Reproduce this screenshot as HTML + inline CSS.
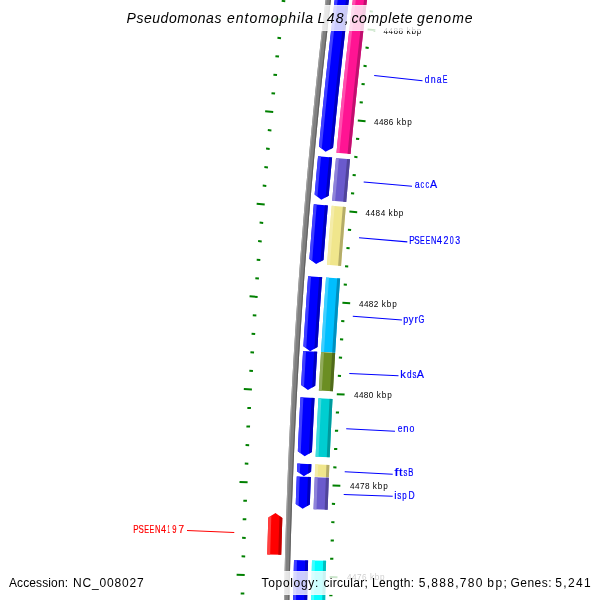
<!DOCTYPE html>
<html><head><meta charset="utf-8"><style>
html,body{margin:0;padding:0;background:#fff;width:600px;height:600px;overflow:hidden}
svg{display:block}
</style></head><body><svg width="600" height="600" viewBox="0 0 600 600"><rect width="600" height="600" fill="#fff"/><polygon points="328.92,614.61 332.12,614.66 332.16,612.67 328.96,612.61" fill="#008000"/><polygon points="243.93,613.11 240.33,613.05 240.37,611.05 243.97,611.11" fill="#008000"/><polygon points="329.27,596.31 332.47,596.37 332.51,594.38 329.31,594.31" fill="#008000"/><polygon points="244.29,594.55 240.69,594.48 240.73,592.48 244.33,592.56" fill="#008000"/><polygon points="329.67,578.01 337.47,578.19 337.52,576.20 329.72,576.01" fill="#008000"/><polygon points="244.69,576.00 236.60,575.81 236.64,573.81 244.74,574.00" fill="#008000"/><polygon points="330.13,559.71 333.33,559.80 333.38,557.80 330.18,557.71" fill="#008000"/><polygon points="245.16,557.45 241.56,557.35 241.61,555.35 245.21,555.45" fill="#008000"/><polygon points="330.64,541.42 333.84,541.51 333.90,539.51 330.70,539.42" fill="#008000"/><polygon points="245.68,538.89 242.08,538.79 242.14,536.79 245.74,536.89" fill="#008000"/><polygon points="331.21,523.12 334.41,523.23 334.47,521.23 331.27,521.13" fill="#008000"/><polygon points="246.25,520.34 242.66,520.22 242.72,518.22 246.32,518.34" fill="#008000"/><polygon points="331.83,504.83 335.03,504.95 335.10,502.95 331.90,502.83" fill="#008000"/><polygon points="246.89,501.79 243.29,501.66 243.36,499.67 246.96,499.79" fill="#008000"/><polygon points="332.51,486.54 340.31,486.84 340.38,484.85 332.59,484.54" fill="#008000"/><polygon points="247.58,483.25 239.48,482.93 239.56,480.93 247.65,481.25" fill="#008000"/><polygon points="333.25,468.25 336.44,468.39 336.53,466.39 333.33,466.26" fill="#008000"/><polygon points="248.32,464.70 244.72,464.55 244.81,462.55 248.40,462.70" fill="#008000"/><polygon points="334.04,449.97 337.23,450.11 337.32,448.11 334.13,447.97" fill="#008000"/><polygon points="249.12,446.16 245.53,446.00 245.61,444.00 249.21,444.16" fill="#008000"/><polygon points="334.88,431.69 338.08,431.84 338.17,429.84 334.98,429.69" fill="#008000"/><polygon points="249.98,427.62 246.38,427.45 246.48,425.45 250.07,425.62" fill="#008000"/><polygon points="335.78,413.40 338.98,413.57 339.08,411.57 335.88,411.41" fill="#008000"/><polygon points="250.89,409.08 247.30,408.90 247.40,406.90 250.99,407.08" fill="#008000"/><polygon points="336.74,395.13 344.53,395.55 344.63,393.55 336.85,393.13" fill="#008000"/><polygon points="251.86,390.55 243.77,390.11 243.88,388.11 251.97,388.55" fill="#008000"/><polygon points="337.75,376.85 340.94,377.03 341.06,375.04 337.86,374.85" fill="#008000"/><polygon points="252.89,372.01 249.29,371.81 249.41,369.81 253.00,370.02" fill="#008000"/><polygon points="338.81,358.58 342.01,358.77 342.13,356.78 338.93,356.58" fill="#008000"/><polygon points="253.97,353.49 250.37,353.27 250.49,351.27 254.09,351.49" fill="#008000"/><polygon points="339.94,340.31 343.13,340.51 343.26,338.52 340.06,338.32" fill="#008000"/><polygon points="255.10,334.96 251.51,334.73 251.64,332.74 255.23,332.97" fill="#008000"/><polygon points="341.11,322.05 344.31,322.26 344.44,320.26 341.24,320.05" fill="#008000"/><polygon points="256.30,316.44 252.71,316.20 252.84,314.21 256.43,314.44" fill="#008000"/><polygon points="342.34,303.79 350.13,304.32 350.26,302.33 342.48,301.79" fill="#008000"/><polygon points="257.55,297.92 249.47,297.36 249.60,295.37 257.69,295.93" fill="#008000"/><polygon points="343.63,285.53 346.82,285.76 346.97,283.76 343.78,283.53" fill="#008000"/><polygon points="258.85,279.41 255.26,279.15 255.41,277.15 259.00,277.41" fill="#008000"/><polygon points="344.97,267.28 348.17,267.51 348.32,265.52 345.12,265.28" fill="#008000"/><polygon points="260.21,260.90 256.62,260.63 256.77,258.63 260.36,258.90" fill="#008000"/><polygon points="346.37,249.03 349.56,249.28 349.72,247.28 346.53,247.03" fill="#008000"/><polygon points="261.63,242.39 258.04,242.11 258.20,240.12 261.79,240.40" fill="#008000"/><polygon points="347.83,230.78 351.01,231.04 351.18,229.05 347.99,228.79" fill="#008000"/><polygon points="263.10,223.89 259.52,223.60 259.68,221.61 263.27,221.90" fill="#008000"/><polygon points="349.33,212.54 357.11,213.20 357.27,211.20 349.50,210.55" fill="#008000"/><polygon points="264.63,205.39 256.56,204.71 256.73,202.72 264.80,203.40" fill="#008000"/><polygon points="350.90,194.30 354.08,194.58 354.26,192.59 351.07,192.31" fill="#008000"/><polygon points="266.22,186.90 262.63,186.59 262.81,184.60 266.39,184.91" fill="#008000"/><polygon points="352.51,176.07 355.70,176.36 355.88,174.37 352.70,174.08" fill="#008000"/><polygon points="267.86,168.41 264.28,168.09 264.46,166.10 268.04,166.42" fill="#008000"/><polygon points="354.19,157.85 357.37,158.14 357.56,156.15 354.37,155.86" fill="#008000"/><polygon points="269.56,149.93 265.97,149.60 266.16,147.61 269.74,147.94" fill="#008000"/><polygon points="355.92,139.63 359.10,139.93 359.29,137.94 356.11,137.64" fill="#008000"/><polygon points="271.31,131.46 267.73,131.11 267.92,129.12 271.50,129.47" fill="#008000"/><polygon points="357.70,121.41 365.46,122.18 365.66,120.19 357.90,119.42" fill="#008000"/><polygon points="273.12,112.98 265.06,112.18 265.26,110.19 273.32,110.99" fill="#008000"/><polygon points="359.54,103.20 362.72,103.53 362.93,101.54 359.74,101.21" fill="#008000"/><polygon points="274.98,94.52 271.40,94.15 271.61,92.16 275.19,92.53" fill="#008000"/><polygon points="361.43,85.00 364.62,85.33 364.83,83.34 361.64,83.01" fill="#008000"/><polygon points="276.91,76.06 273.33,75.68 273.54,73.69 277.12,74.07" fill="#008000"/><polygon points="363.38,66.80 366.56,67.14 366.78,65.16 363.60,64.81" fill="#008000"/><polygon points="278.88,57.60 275.30,57.21 275.52,55.23 279.10,55.62" fill="#008000"/><polygon points="365.39,48.61 368.57,48.96 368.79,46.97 365.61,46.62" fill="#008000"/><polygon points="280.91,39.16 277.34,38.76 277.56,36.77 281.14,37.17" fill="#008000"/><polygon points="367.45,30.42 375.20,31.31 375.42,29.32 367.67,28.43" fill="#008000"/><polygon points="283.00,20.71 274.96,19.79 275.18,17.80 283.23,18.73" fill="#008000"/><polygon points="369.56,12.24 372.74,12.61 372.97,10.63 369.79,10.25" fill="#008000"/><polygon points="285.15,2.28 281.57,1.86 281.81,-0.13 285.38,0.29" fill="#008000"/><polygon points="371.73,-5.94 374.91,-5.55 375.15,-7.54 371.97,-7.92" fill="#008000"/><polygon points="287.35,-16.15 283.77,-16.58 284.01,-18.57 287.59,-18.14" fill="#008000"/><clipPath id="c1"><polygon points="283.61,620.96 283.64,618.67 283.68,616.37 283.72,614.08 283.76,611.79 283.80,609.50 283.85,607.21 283.89,604.91 283.93,602.62 283.98,600.33 284.02,598.04 284.07,595.75 284.12,593.46 284.17,591.16 284.21,588.87 284.26,586.58 284.31,584.29 284.37,582.00 284.42,579.70 284.47,577.41 284.53,575.12 284.58,572.83 284.64,570.54 284.69,568.25 284.75,565.96 284.81,563.66 284.87,561.37 284.93,559.08 284.99,556.79 285.05,554.50 285.11,552.21 285.18,549.92 285.24,547.62 285.31,545.33 285.37,543.04 285.44,540.75 285.51,538.46 285.58,536.17 285.65,533.88 285.72,531.59 285.79,529.29 285.86,527.00 285.93,524.71 286.01,522.42 286.08,520.13 286.16,517.84 286.24,515.55 286.31,513.26 286.39,510.97 286.47,508.68 286.55,506.38 286.63,504.09 286.71,501.80 286.79,499.51 286.88,497.22 286.96,494.93 287.05,492.64 287.13,490.35 287.22,488.06 287.31,485.77 287.40,483.48 287.49,481.19 287.58,478.90 287.67,476.61 287.76,474.32 287.85,472.03 287.95,469.74 288.04,467.45 288.14,465.16 288.23,462.87 288.33,460.57 288.43,458.28 288.53,455.99 288.63,453.70 288.73,451.41 288.83,449.12 288.93,446.83 289.03,444.54 289.14,442.25 289.24,439.96 289.35,437.68 289.46,435.39 289.56,433.10 289.67,430.81 289.78,428.52 289.89,426.23 290.00,423.94 290.11,421.65 290.23,419.36 290.34,417.07 290.45,414.78 290.57,412.49 290.69,410.20 290.80,407.91 290.92,405.62 291.04,403.33 291.16,401.04 291.28,398.76 291.40,396.47 291.52,394.18 291.65,391.89 291.77,389.60 291.89,387.31 292.02,385.02 292.15,382.73 292.27,380.44 292.40,378.16 292.53,375.87 292.66,373.58 292.79,371.29 292.92,369.00 293.06,366.71 293.19,364.42 293.32,362.14 293.46,359.85 293.59,357.56 293.73,355.27 293.87,352.98 294.01,350.70 294.15,348.41 294.29,346.12 294.43,343.83 294.57,341.54 294.71,339.26 294.86,336.97 295.00,334.68 295.15,332.39 295.29,330.11 295.44,327.82 295.59,325.53 295.74,323.24 295.89,320.96 296.04,318.67 296.19,316.38 296.34,314.09 296.49,311.81 296.65,309.52 296.80,307.23 296.96,304.95 297.12,302.66 297.27,300.37 297.43,298.09 297.59,295.80 297.75,293.51 297.91,291.23 298.07,288.94 298.24,286.65 298.40,284.37 298.56,282.08 298.73,279.79 298.89,277.51 299.06,275.22 299.23,272.94 299.40,270.65 299.57,268.36 299.74,266.08 299.91,263.79 300.08,261.51 300.25,259.22 300.43,256.93 300.60,254.65 300.78,252.36 300.95,250.08 301.13,247.79 301.31,245.51 301.49,243.22 301.67,240.94 301.85,238.65 302.03,236.37 302.21,234.08 302.40,231.80 302.58,229.51 302.76,227.23 302.95,224.94 303.14,222.66 303.32,220.37 303.51,218.09 303.70,215.80 303.89,213.52 304.08,211.24 304.28,208.95 304.47,206.67 304.66,204.38 304.86,202.10 305.05,199.82 305.25,197.53 305.44,195.25 305.64,192.96 305.84,190.68 306.04,188.40 306.24,186.11 306.44,183.83 306.64,181.55 306.85,179.26 307.05,176.98 307.26,174.70 307.46,172.41 307.67,170.13 307.88,167.85 308.08,165.57 308.29,163.28 308.50,161.00 308.71,158.72 308.92,156.44 309.14,154.15 309.35,151.87 309.56,149.59 309.78,147.31 310.00,145.02 310.21,142.74 310.43,140.46 310.65,138.18 310.87,135.90 311.09,133.62 311.31,131.33 311.53,129.05 311.75,126.77 311.98,124.49 312.20,122.21 312.43,119.93 312.65,117.65 312.88,115.37 313.11,113.09 313.34,110.80 313.57,108.52 313.80,106.24 314.03,103.96 314.26,101.68 314.49,99.40 314.73,97.12 314.96,94.84 315.20,92.56 315.43,90.28 315.67,88.00 315.91,85.72 316.15,83.44 316.39,81.16 316.63,78.88 316.87,76.60 317.11,74.32 317.36,72.04 317.60,69.76 317.85,67.49 318.09,65.21 318.34,62.93 318.59,60.65 318.83,58.37 319.08,56.09 319.33,53.81 319.58,51.53 319.84,49.26 320.09,46.98 320.34,44.70 320.60,42.42 320.85,40.14 321.11,37.87 321.37,35.59 321.62,33.31 321.88,31.03 322.14,28.76 322.40,26.48 322.66,24.20 322.93,21.92 323.19,19.65 323.45,17.37 323.72,15.09 323.98,12.82 324.25,10.54 324.52,8.26 324.78,5.99 325.05,3.71 325.32,1.43 325.59,-0.84 325.87,-3.12 326.14,-5.39 326.41,-7.67 326.69,-9.95 326.96,-12.22 327.24,-14.50 327.51,-16.77 327.79,-19.05 328.07,-21.32 333.43,-20.67 333.15,-18.39 332.87,-16.12 332.60,-13.85 332.32,-11.57 332.05,-9.30 331.77,-7.03 331.50,-4.75 331.23,-2.48 330.96,-0.20 330.69,2.07 330.42,4.34 330.15,6.62 329.88,8.89 329.61,11.17 329.35,13.44 329.08,15.72 328.82,17.99 328.55,20.27 328.29,22.54 328.03,24.82 327.77,27.09 327.51,29.37 327.25,31.64 326.99,33.92 326.73,36.19 326.47,38.47 326.22,40.75 325.96,43.02 325.71,45.30 325.46,47.57 325.20,49.85 324.95,52.13 324.70,54.40 324.45,56.68 324.20,58.96 323.95,61.23 323.71,63.51 323.46,65.79 323.21,68.06 322.97,70.34 322.73,72.62 322.48,74.90 322.24,77.17 322.00,79.45 321.76,81.73 321.52,84.01 321.28,86.28 321.04,88.56 320.80,90.84 320.57,93.12 320.33,95.40 320.10,97.67 319.86,99.95 319.63,102.23 319.40,104.51 319.17,106.79 318.94,109.07 318.71,111.34 318.48,113.62 318.25,115.90 318.03,118.18 317.80,120.46 317.57,122.74 317.35,125.02 317.13,127.30 316.90,129.58 316.68,131.86 316.46,134.14 316.24,136.42 316.02,138.69 315.80,140.97 315.59,143.25 315.37,145.53 315.16,147.81 314.94,150.09 314.73,152.37 314.51,154.66 314.30,156.94 314.09,159.22 313.88,161.50 313.67,163.78 313.46,166.06 313.25,168.34 313.05,170.62 312.84,172.90 312.63,175.18 312.43,177.46 312.23,179.74 312.02,182.02 311.82,184.31 311.62,186.59 311.42,188.87 311.22,191.15 311.02,193.43 310.82,195.71 310.63,197.99 310.43,200.28 310.24,202.56 310.04,204.84 309.85,207.12 309.66,209.40 309.46,211.69 309.27,213.97 309.08,216.25 308.89,218.53 308.71,220.82 308.52,223.10 308.33,225.38 308.15,227.66 307.96,229.95 307.78,232.23 307.60,234.51 307.41,236.80 307.23,239.08 307.05,241.36 306.87,243.64 306.69,245.93 306.51,248.21 306.34,250.49 306.16,252.78 305.99,255.06 305.81,257.34 305.64,259.63 305.47,261.91 305.29,264.20 305.12,266.48 304.95,268.76 304.78,271.05 304.61,273.33 304.45,275.62 304.28,277.90 304.11,280.18 303.95,282.47 303.79,284.75 303.62,287.04 303.46,289.32 303.30,291.61 303.14,293.89 302.98,296.18 302.82,298.46 302.66,300.74 302.50,303.03 302.35,305.31 302.19,307.60 302.04,309.88 301.88,312.17 301.73,314.45 301.58,316.74 301.43,319.02 301.28,321.31 301.13,323.60 300.98,325.88 300.83,328.17 300.68,330.45 300.54,332.74 300.39,335.02 300.25,337.31 300.10,339.59 299.96,341.88 299.82,344.17 299.68,346.45 299.54,348.74 299.40,351.02 299.26,353.31 299.12,355.60 298.99,357.88 298.85,360.17 298.71,362.45 298.58,364.74 298.45,367.03 298.31,369.31 298.18,371.60 298.05,373.89 297.92,376.17 297.79,378.46 297.67,380.75 297.54,383.03 297.41,385.32 297.29,387.61 297.16,389.89 297.04,392.18 296.92,394.47 296.79,396.75 296.67,399.04 296.55,401.33 296.43,403.61 296.31,405.90 296.20,408.19 296.08,410.48 295.96,412.76 295.85,415.05 295.73,417.34 295.62,419.62 295.51,421.91 295.40,424.20 295.28,426.49 295.17,428.77 295.07,431.06 294.96,433.35 294.85,435.64 294.74,437.93 294.64,440.21 294.53,442.50 294.43,444.79 294.33,447.08 294.22,449.36 294.12,451.65 294.02,453.94 293.92,456.23 293.82,458.52 293.73,460.80 293.63,463.09 293.53,465.38 293.44,467.67 293.34,469.96 293.25,472.25 293.16,474.53 293.06,476.82 292.97,479.11 292.88,481.40 292.79,483.69 292.70,485.98 292.62,488.26 292.53,490.55 292.44,492.84 292.36,495.13 292.27,497.42 292.19,499.71 292.11,502.00 292.03,504.29 291.95,506.57 291.87,508.86 291.79,511.15 291.71,513.44 291.63,515.73 291.56,518.02 291.48,520.31 291.41,522.60 291.33,524.89 291.26,527.17 291.19,529.46 291.11,531.75 291.04,534.04 290.97,536.33 290.91,538.62 290.84,540.91 290.77,543.20 290.71,545.49 290.64,547.78 290.58,550.07 290.51,552.36 290.45,554.65 290.39,556.93 290.33,559.22 290.27,561.51 290.21,563.80 290.15,566.09 290.09,568.38 290.03,570.67 289.98,572.96 289.92,575.25 289.87,577.54 289.82,579.83 289.76,582.12 289.71,584.41 289.66,586.70 289.61,588.99 289.56,591.28 289.52,593.57 289.47,595.86 289.42,598.15 289.38,600.44 289.33,602.73 289.29,605.02 289.25,607.31 289.20,609.60 289.16,611.89 289.12,614.18 289.08,616.47 289.04,618.76 289.01,621.04"/></clipPath><polygon points="283.61,620.96 283.64,618.67 283.68,616.37 283.72,614.08 283.76,611.79 283.80,609.50 283.85,607.21 283.89,604.91 283.93,602.62 283.98,600.33 284.02,598.04 284.07,595.75 284.12,593.46 284.17,591.16 284.21,588.87 284.26,586.58 284.31,584.29 284.37,582.00 284.42,579.70 284.47,577.41 284.53,575.12 284.58,572.83 284.64,570.54 284.69,568.25 284.75,565.96 284.81,563.66 284.87,561.37 284.93,559.08 284.99,556.79 285.05,554.50 285.11,552.21 285.18,549.92 285.24,547.62 285.31,545.33 285.37,543.04 285.44,540.75 285.51,538.46 285.58,536.17 285.65,533.88 285.72,531.59 285.79,529.29 285.86,527.00 285.93,524.71 286.01,522.42 286.08,520.13 286.16,517.84 286.24,515.55 286.31,513.26 286.39,510.97 286.47,508.68 286.55,506.38 286.63,504.09 286.71,501.80 286.79,499.51 286.88,497.22 286.96,494.93 287.05,492.64 287.13,490.35 287.22,488.06 287.31,485.77 287.40,483.48 287.49,481.19 287.58,478.90 287.67,476.61 287.76,474.32 287.85,472.03 287.95,469.74 288.04,467.45 288.14,465.16 288.23,462.87 288.33,460.57 288.43,458.28 288.53,455.99 288.63,453.70 288.73,451.41 288.83,449.12 288.93,446.83 289.03,444.54 289.14,442.25 289.24,439.96 289.35,437.68 289.46,435.39 289.56,433.10 289.67,430.81 289.78,428.52 289.89,426.23 290.00,423.94 290.11,421.65 290.23,419.36 290.34,417.07 290.45,414.78 290.57,412.49 290.69,410.20 290.80,407.91 290.92,405.62 291.04,403.33 291.16,401.04 291.28,398.76 291.40,396.47 291.52,394.18 291.65,391.89 291.77,389.60 291.89,387.31 292.02,385.02 292.15,382.73 292.27,380.44 292.40,378.16 292.53,375.87 292.66,373.58 292.79,371.29 292.92,369.00 293.06,366.71 293.19,364.42 293.32,362.14 293.46,359.85 293.59,357.56 293.73,355.27 293.87,352.98 294.01,350.70 294.15,348.41 294.29,346.12 294.43,343.83 294.57,341.54 294.71,339.26 294.86,336.97 295.00,334.68 295.15,332.39 295.29,330.11 295.44,327.82 295.59,325.53 295.74,323.24 295.89,320.96 296.04,318.67 296.19,316.38 296.34,314.09 296.49,311.81 296.65,309.52 296.80,307.23 296.96,304.95 297.12,302.66 297.27,300.37 297.43,298.09 297.59,295.80 297.75,293.51 297.91,291.23 298.07,288.94 298.24,286.65 298.40,284.37 298.56,282.08 298.73,279.79 298.89,277.51 299.06,275.22 299.23,272.94 299.40,270.65 299.57,268.36 299.74,266.08 299.91,263.79 300.08,261.51 300.25,259.22 300.43,256.93 300.60,254.65 300.78,252.36 300.95,250.08 301.13,247.79 301.31,245.51 301.49,243.22 301.67,240.94 301.85,238.65 302.03,236.37 302.21,234.08 302.40,231.80 302.58,229.51 302.76,227.23 302.95,224.94 303.14,222.66 303.32,220.37 303.51,218.09 303.70,215.80 303.89,213.52 304.08,211.24 304.28,208.95 304.47,206.67 304.66,204.38 304.86,202.10 305.05,199.82 305.25,197.53 305.44,195.25 305.64,192.96 305.84,190.68 306.04,188.40 306.24,186.11 306.44,183.83 306.64,181.55 306.85,179.26 307.05,176.98 307.26,174.70 307.46,172.41 307.67,170.13 307.88,167.85 308.08,165.57 308.29,163.28 308.50,161.00 308.71,158.72 308.92,156.44 309.14,154.15 309.35,151.87 309.56,149.59 309.78,147.31 310.00,145.02 310.21,142.74 310.43,140.46 310.65,138.18 310.87,135.90 311.09,133.62 311.31,131.33 311.53,129.05 311.75,126.77 311.98,124.49 312.20,122.21 312.43,119.93 312.65,117.65 312.88,115.37 313.11,113.09 313.34,110.80 313.57,108.52 313.80,106.24 314.03,103.96 314.26,101.68 314.49,99.40 314.73,97.12 314.96,94.84 315.20,92.56 315.43,90.28 315.67,88.00 315.91,85.72 316.15,83.44 316.39,81.16 316.63,78.88 316.87,76.60 317.11,74.32 317.36,72.04 317.60,69.76 317.85,67.49 318.09,65.21 318.34,62.93 318.59,60.65 318.83,58.37 319.08,56.09 319.33,53.81 319.58,51.53 319.84,49.26 320.09,46.98 320.34,44.70 320.60,42.42 320.85,40.14 321.11,37.87 321.37,35.59 321.62,33.31 321.88,31.03 322.14,28.76 322.40,26.48 322.66,24.20 322.93,21.92 323.19,19.65 323.45,17.37 323.72,15.09 323.98,12.82 324.25,10.54 324.52,8.26 324.78,5.99 325.05,3.71 325.32,1.43 325.59,-0.84 325.87,-3.12 326.14,-5.39 326.41,-7.67 326.69,-9.95 326.96,-12.22 327.24,-14.50 327.51,-16.77 327.79,-19.05 328.07,-21.32 333.43,-20.67 333.15,-18.39 332.87,-16.12 332.60,-13.85 332.32,-11.57 332.05,-9.30 331.77,-7.03 331.50,-4.75 331.23,-2.48 330.96,-0.20 330.69,2.07 330.42,4.34 330.15,6.62 329.88,8.89 329.61,11.17 329.35,13.44 329.08,15.72 328.82,17.99 328.55,20.27 328.29,22.54 328.03,24.82 327.77,27.09 327.51,29.37 327.25,31.64 326.99,33.92 326.73,36.19 326.47,38.47 326.22,40.75 325.96,43.02 325.71,45.30 325.46,47.57 325.20,49.85 324.95,52.13 324.70,54.40 324.45,56.68 324.20,58.96 323.95,61.23 323.71,63.51 323.46,65.79 323.21,68.06 322.97,70.34 322.73,72.62 322.48,74.90 322.24,77.17 322.00,79.45 321.76,81.73 321.52,84.01 321.28,86.28 321.04,88.56 320.80,90.84 320.57,93.12 320.33,95.40 320.10,97.67 319.86,99.95 319.63,102.23 319.40,104.51 319.17,106.79 318.94,109.07 318.71,111.34 318.48,113.62 318.25,115.90 318.03,118.18 317.80,120.46 317.57,122.74 317.35,125.02 317.13,127.30 316.90,129.58 316.68,131.86 316.46,134.14 316.24,136.42 316.02,138.69 315.80,140.97 315.59,143.25 315.37,145.53 315.16,147.81 314.94,150.09 314.73,152.37 314.51,154.66 314.30,156.94 314.09,159.22 313.88,161.50 313.67,163.78 313.46,166.06 313.25,168.34 313.05,170.62 312.84,172.90 312.63,175.18 312.43,177.46 312.23,179.74 312.02,182.02 311.82,184.31 311.62,186.59 311.42,188.87 311.22,191.15 311.02,193.43 310.82,195.71 310.63,197.99 310.43,200.28 310.24,202.56 310.04,204.84 309.85,207.12 309.66,209.40 309.46,211.69 309.27,213.97 309.08,216.25 308.89,218.53 308.71,220.82 308.52,223.10 308.33,225.38 308.15,227.66 307.96,229.95 307.78,232.23 307.60,234.51 307.41,236.80 307.23,239.08 307.05,241.36 306.87,243.64 306.69,245.93 306.51,248.21 306.34,250.49 306.16,252.78 305.99,255.06 305.81,257.34 305.64,259.63 305.47,261.91 305.29,264.20 305.12,266.48 304.95,268.76 304.78,271.05 304.61,273.33 304.45,275.62 304.28,277.90 304.11,280.18 303.95,282.47 303.79,284.75 303.62,287.04 303.46,289.32 303.30,291.61 303.14,293.89 302.98,296.18 302.82,298.46 302.66,300.74 302.50,303.03 302.35,305.31 302.19,307.60 302.04,309.88 301.88,312.17 301.73,314.45 301.58,316.74 301.43,319.02 301.28,321.31 301.13,323.60 300.98,325.88 300.83,328.17 300.68,330.45 300.54,332.74 300.39,335.02 300.25,337.31 300.10,339.59 299.96,341.88 299.82,344.17 299.68,346.45 299.54,348.74 299.40,351.02 299.26,353.31 299.12,355.60 298.99,357.88 298.85,360.17 298.71,362.45 298.58,364.74 298.45,367.03 298.31,369.31 298.18,371.60 298.05,373.89 297.92,376.17 297.79,378.46 297.67,380.75 297.54,383.03 297.41,385.32 297.29,387.61 297.16,389.89 297.04,392.18 296.92,394.47 296.79,396.75 296.67,399.04 296.55,401.33 296.43,403.61 296.31,405.90 296.20,408.19 296.08,410.48 295.96,412.76 295.85,415.05 295.73,417.34 295.62,419.62 295.51,421.91 295.40,424.20 295.28,426.49 295.17,428.77 295.07,431.06 294.96,433.35 294.85,435.64 294.74,437.93 294.64,440.21 294.53,442.50 294.43,444.79 294.33,447.08 294.22,449.36 294.12,451.65 294.02,453.94 293.92,456.23 293.82,458.52 293.73,460.80 293.63,463.09 293.53,465.38 293.44,467.67 293.34,469.96 293.25,472.25 293.16,474.53 293.06,476.82 292.97,479.11 292.88,481.40 292.79,483.69 292.70,485.98 292.62,488.26 292.53,490.55 292.44,492.84 292.36,495.13 292.27,497.42 292.19,499.71 292.11,502.00 292.03,504.29 291.95,506.57 291.87,508.86 291.79,511.15 291.71,513.44 291.63,515.73 291.56,518.02 291.48,520.31 291.41,522.60 291.33,524.89 291.26,527.17 291.19,529.46 291.11,531.75 291.04,534.04 290.97,536.33 290.91,538.62 290.84,540.91 290.77,543.20 290.71,545.49 290.64,547.78 290.58,550.07 290.51,552.36 290.45,554.65 290.39,556.93 290.33,559.22 290.27,561.51 290.21,563.80 290.15,566.09 290.09,568.38 290.03,570.67 289.98,572.96 289.92,575.25 289.87,577.54 289.82,579.83 289.76,582.12 289.71,584.41 289.66,586.70 289.61,588.99 289.56,591.28 289.52,593.57 289.47,595.86 289.42,598.15 289.38,600.44 289.33,602.73 289.29,605.02 289.25,607.31 289.20,609.60 289.16,611.89 289.12,614.18 289.08,616.47 289.04,618.76 289.01,621.04" fill="#808080"/><g clip-path="url(#c1)"><polygon points="282.28,643.95 282.31,641.65 282.34,639.36 282.37,637.07 282.40,634.77 282.43,632.48 282.46,630.19 282.50,627.90 282.53,625.60 282.57,623.31 282.61,621.02 282.64,618.72 282.68,616.43 282.72,614.14 282.76,611.85 282.80,609.55 282.85,607.26 282.89,604.97 282.93,602.67 282.98,600.38 283.02,598.09 283.07,595.80 283.12,593.50 283.16,591.21 283.21,588.92 283.26,586.63 283.31,584.33 283.36,582.04 283.42,579.75 283.47,577.46 283.52,575.16 283.58,572.87 283.64,570.58 283.69,568.29 283.75,565.99 283.81,563.70 283.87,561.41 283.93,559.12 283.99,556.82 284.05,554.53 284.11,552.24 284.18,549.95 284.24,547.65 284.31,545.36 284.37,543.07 284.44,540.78 284.51,538.49 284.58,536.19 284.65,533.90 284.72,531.61 284.79,529.32 284.86,527.03 284.93,524.73 285.01,522.44 285.08,520.15 285.16,517.86 285.23,515.57 285.31,513.27 285.39,510.98 285.47,508.69 285.55,506.40 285.63,504.11 285.71,501.82 285.79,499.52 285.88,497.23 285.96,494.94 286.05,492.65 286.13,490.36 286.22,488.07 286.31,485.77 286.40,483.48 286.49,481.19 286.58,478.90 286.67,476.61 286.76,474.32 286.85,472.03 286.95,469.74 287.04,467.44 287.14,465.15 287.23,462.86 287.33,460.57 287.43,458.28 287.53,455.99 287.63,453.70 287.73,451.41 287.83,449.12 287.93,446.82 288.03,444.53 288.14,442.24 288.24,439.95 288.35,437.66 288.46,435.37 288.56,433.08 288.67,430.79 288.78,428.50 288.89,426.21 289.00,423.92 289.11,421.63 289.23,419.34 289.34,417.05 289.45,414.76 289.57,412.47 289.69,410.18 289.80,407.89 289.92,405.60 290.04,403.31 290.16,401.02 290.28,398.73 290.40,396.44 290.52,394.15 290.65,391.86 290.77,389.57 290.90,387.28 291.02,384.99 291.15,382.70 291.27,380.41 291.40,378.12 291.53,375.83 291.66,373.54 291.79,371.25 291.92,368.96 292.06,366.67 292.19,364.38 292.32,362.09 292.46,359.80 292.60,357.51 292.73,355.23 292.87,352.94 293.01,350.65 293.15,348.36 293.29,346.07 293.43,343.78 293.57,341.49 293.71,339.20 293.86,336.91 294.00,334.63 294.15,332.34 294.29,330.05 294.44,327.76 294.59,325.47 294.74,323.18 294.89,320.90 295.04,318.61 295.19,316.32 295.34,314.03 295.50,311.74 295.65,309.46 295.81,307.17 295.96,304.88 296.12,302.59 296.28,300.30 296.43,298.02 296.59,295.73 296.75,293.44 296.91,291.15 297.08,288.87 297.24,286.58 297.40,284.29 297.57,282.00 297.73,279.72 297.90,277.43 298.06,275.14 298.23,272.86 298.40,270.57 298.57,268.28 298.74,266.00 298.91,263.71 299.08,261.42 299.26,259.14 299.43,256.85 299.61,254.56 299.78,252.28 299.96,249.99 300.14,247.70 300.31,245.42 300.49,243.13 300.67,240.84 300.85,238.56 301.03,236.27 301.22,233.99 301.40,231.70 301.58,229.42 301.77,227.13 301.96,224.84 302.14,222.56 302.33,220.27 302.52,217.99 302.71,215.70 302.90,213.42 303.09,211.13 303.28,208.85 303.47,206.56 303.67,204.28 303.86,201.99 304.06,199.71 304.25,197.42 304.45,195.14 304.65,192.85 304.85,190.57 305.05,188.28 305.25,186.00 305.45,183.72 305.65,181.43 305.85,179.15 306.06,176.86 306.26,174.58 306.47,172.29 306.67,170.01 306.88,167.73 307.09,165.44 307.30,163.16 307.51,160.88 307.72,158.59 307.93,156.31 308.14,154.03 308.36,151.74 308.57,149.46 308.79,147.18 309.00,144.89 309.22,142.61 309.44,140.33 309.66,138.05 309.88,135.76 310.10,133.48 310.32,131.20 310.54,128.92 310.76,126.63 310.99,124.35 311.21,122.07 311.44,119.79 311.66,117.50 311.89,115.22 312.12,112.94 312.35,110.66 312.58,108.38 312.81,106.10 313.04,103.81 313.27,101.53 313.50,99.25 313.74,96.97 313.97,94.69 314.21,92.41 314.44,90.13 314.68,87.85 314.92,85.57 315.16,83.29 315.40,81.01 315.64,78.72 315.88,76.44 316.12,74.16 316.37,71.88 316.61,69.60 316.86,67.32 317.10,65.04 317.35,62.76 317.60,60.48 317.85,58.20 318.10,55.93 318.35,53.65 318.60,51.37 318.85,49.09 319.10,46.81 319.36,44.53 319.61,42.25 319.87,39.97 320.12,37.69 320.38,35.41 320.64,33.13 320.90,30.86 321.16,28.58 321.42,26.30 321.68,24.02 321.94,21.74 322.20,19.47 322.47,17.19 322.73,14.91 323.00,12.63 323.26,10.35 323.53,8.08 323.80,5.80 324.07,3.52 324.34,1.25 324.61,-1.03 324.88,-3.31 325.15,-5.59 325.43,-7.86 325.70,-10.14 325.98,-12.42 326.25,-14.69 326.53,-16.97 326.81,-19.25 327.09,-21.52 327.37,-23.80 327.65,-26.07 327.93,-28.35 328.21,-30.62 328.49,-32.90 328.78,-35.18 329.06,-37.45 329.35,-39.73 329.63,-42.00 329.92,-44.28 332.04,-44.01 331.75,-41.74 331.46,-39.46 331.18,-37.19 330.89,-34.91 330.61,-32.64 330.33,-30.36 330.04,-28.09 329.76,-25.81 329.48,-23.54 329.20,-21.26 328.93,-18.99 328.65,-16.71 328.37,-14.44 328.10,-12.16 327.82,-9.88 327.55,-7.61 327.27,-5.33 327.00,-3.06 326.73,-0.78 326.46,1.50 326.19,3.77 325.92,6.05 325.65,8.33 325.38,10.60 325.12,12.88 324.85,15.16 324.59,17.43 324.32,19.71 324.06,21.99 323.80,24.27 323.54,26.54 323.28,28.82 323.02,31.10 322.76,33.38 322.50,35.65 322.24,37.93 321.99,40.21 321.73,42.49 321.48,44.77 321.22,47.04 320.97,49.32 320.72,51.60 320.47,53.88 320.22,56.16 319.97,58.44 319.72,60.72 319.47,62.99 319.22,65.27 318.98,67.55 318.73,69.83 318.49,72.11 318.25,74.39 318.00,76.67 317.76,78.95 317.52,81.23 317.28,83.51 317.04,85.79 316.80,88.07 316.57,90.35 316.33,92.63 316.09,94.91 315.86,97.19 315.63,99.47 315.39,101.75 315.16,104.03 314.93,106.31 314.70,108.59 314.47,110.87 314.24,113.15 314.01,115.43 313.79,117.72 313.56,120.00 313.33,122.28 313.11,124.56 312.89,126.84 312.66,129.12 312.44,131.40 312.22,133.69 312.00,135.97 311.78,138.25 311.56,140.53 311.34,142.81 311.13,145.10 310.91,147.38 310.70,149.66 310.48,151.94 310.27,154.22 310.06,156.51 309.85,158.79 309.63,161.07 309.42,163.35 309.22,165.64 309.01,167.92 308.80,170.20 308.59,172.49 308.39,174.77 308.18,177.05 307.98,179.34 307.78,181.62 307.57,183.90 307.37,186.19 307.17,188.47 306.97,190.75 306.77,193.04 306.58,195.32 306.38,197.61 306.18,199.89 305.99,202.17 305.79,204.46 305.60,206.74 305.41,209.03 305.22,211.31 305.02,213.59 304.83,215.88 304.64,218.16 304.46,220.45 304.27,222.73 304.08,225.02 303.90,227.30 303.71,229.59 303.53,231.87 303.34,234.16 303.16,236.44 302.98,238.73 302.80,241.01 302.62,243.30 302.44,245.58 302.26,247.87 302.09,250.15 301.91,252.44 301.73,254.73 301.56,257.01 301.39,259.30 301.21,261.58 301.04,263.87 300.87,266.15 300.70,268.44 300.53,270.73 300.36,273.01 300.19,275.30 300.03,277.58 299.86,279.87 299.69,282.16 299.53,284.44 299.37,286.73 299.20,289.02 299.04,291.30 298.88,293.59 298.72,295.88 298.56,298.16 298.40,300.45 298.25,302.74 298.09,305.02 297.93,307.31 297.78,309.60 297.63,311.89 297.47,314.17 297.32,316.46 297.17,318.75 297.02,321.04 296.87,323.32 296.72,325.61 296.57,327.90 296.42,330.19 296.28,332.47 296.13,334.76 295.99,337.05 295.84,339.34 295.70,341.62 295.56,343.91 295.42,346.20 295.28,348.49 295.14,350.78 295.00,353.06 294.86,355.35 294.73,357.64 294.59,359.93 294.45,362.22 294.32,364.51 294.19,366.79 294.05,369.08 293.92,371.37 293.79,373.66 293.66,375.95 293.53,378.24 293.41,380.53 293.28,382.82 293.15,385.10 293.03,387.39 292.90,389.68 292.78,391.97 292.65,394.26 292.53,396.55 292.41,398.84 292.29,401.13 292.17,403.42 292.05,405.71 291.93,408.00 291.82,410.28 291.70,412.57 291.59,414.86 291.47,417.15 291.36,419.44 291.25,421.73 291.13,424.02 291.02,426.31 290.91,428.60 290.80,430.89 290.69,433.18 290.59,435.47 290.48,437.76 290.37,440.05 290.27,442.34 290.17,444.63 290.06,446.92 289.96,449.21 289.86,451.50 289.76,453.79 289.66,456.08 289.56,458.37 289.46,460.66 289.36,462.95 289.27,465.24 289.17,467.53 289.08,469.82 288.98,472.11 288.89,474.40 288.80,476.69 288.71,478.98 288.62,481.28 288.53,483.57 288.44,485.86 288.35,488.15 288.27,490.44 288.18,492.73 288.09,495.02 288.01,497.31 287.93,499.60 287.84,501.89 287.76,504.18 287.68,506.47 287.60,508.76 287.52,511.06 287.44,513.35 287.37,515.64 287.29,517.93 287.21,520.22 287.14,522.51 287.07,524.80 286.99,527.09 286.92,529.38 286.85,531.68 286.78,533.97 286.71,536.26 286.64,538.55 286.57,540.84 286.51,543.13 286.44,545.42 286.37,547.72 286.31,550.01 286.25,552.30 286.18,554.59 286.12,556.88 286.06,559.17 286.00,561.46 285.94,563.76 285.88,566.05 285.83,568.34 285.77,570.63 285.71,572.92 285.66,575.21 285.60,577.51 285.55,579.80 285.50,582.09 285.45,584.38 285.40,586.67 285.35,588.96 285.30,591.26 285.25,593.55 285.20,595.84 285.16,598.13 285.11,600.42 285.07,602.72 285.02,605.01 284.98,607.30 284.94,609.59 284.90,611.88 284.86,614.18 284.82,616.47 284.78,618.76 284.74,621.05 284.70,623.34 284.67,625.64 284.63,627.93 284.60,630.22 284.56,632.51 284.53,634.80 284.50,637.10 284.47,639.39 284.44,641.68 284.41,643.97" fill="#a0a0a0"/><polygon points="287.54,644.01 287.57,641.72 287.60,639.43 287.63,637.14 287.66,634.85 287.70,632.56 287.73,630.27 287.76,627.98 287.80,625.68 287.83,623.39 287.87,621.10 287.91,618.81 287.95,616.52 287.99,614.23 288.03,611.94 288.07,609.65 288.11,607.36 288.15,605.07 288.20,602.78 288.24,600.49 288.29,598.19 288.33,595.90 288.38,593.61 288.43,591.32 288.48,589.03 288.53,586.74 288.58,584.45 288.63,582.16 288.68,579.87 288.73,577.58 288.79,575.29 288.84,573.00 288.90,570.71 288.96,568.42 289.01,566.13 289.07,563.84 289.13,561.55 289.19,559.26 289.25,556.97 289.31,554.67 289.38,552.38 289.44,550.09 289.50,547.80 289.57,545.51 289.64,543.22 289.70,540.93 289.77,538.64 289.84,536.35 289.91,534.06 289.98,531.77 290.05,529.48 290.12,527.19 290.20,524.90 290.27,522.61 290.34,520.32 290.42,518.03 290.50,515.74 290.57,513.45 290.65,511.16 290.73,508.87 290.81,506.58 290.89,504.29 290.97,502.00 291.06,499.71 291.14,497.42 291.22,495.14 291.31,492.85 291.39,490.56 291.48,488.27 291.57,485.98 291.66,483.69 291.75,481.40 291.84,479.11 291.93,476.82 292.02,474.53 292.11,472.24 292.21,469.95 292.30,467.66 292.40,465.37 292.49,463.08 292.59,460.79 292.69,458.51 292.79,456.22 292.89,453.93 292.99,451.64 293.09,449.35 293.19,447.06 293.29,444.77 293.40,442.48 293.50,440.19 293.61,437.91 293.72,435.62 293.82,433.33 293.93,431.04 294.04,428.75 294.15,426.46 294.26,424.17 294.37,421.89 294.49,419.60 294.60,417.31 294.71,415.02 294.83,412.73 294.95,410.44 295.06,408.16 295.18,405.87 295.30,403.58 295.42,401.29 295.54,399.00 295.66,396.72 295.78,394.43 295.90,392.14 296.03,389.85 296.15,387.56 296.28,385.28 296.41,382.99 296.53,380.70 296.66,378.41 296.79,376.13 296.92,373.84 297.05,371.55 297.18,369.26 297.31,366.98 297.45,364.69 297.58,362.40 297.72,360.11 297.85,357.83 297.99,355.54 298.13,353.25 298.27,350.97 298.40,348.68 298.54,346.39 298.69,344.11 298.83,341.82 298.97,339.53 299.11,337.25 299.26,334.96 299.40,332.67 299.55,330.39 299.70,328.10 299.84,325.81 299.99,323.53 300.14,321.24 300.29,318.95 300.45,316.67 300.60,314.38 300.75,312.10 300.90,309.81 301.06,307.52 301.21,305.24 301.37,302.95 301.53,300.67 301.69,298.38 301.85,296.10 302.01,293.81 302.17,291.52 302.33,289.24 302.49,286.95 302.65,284.67 302.82,282.38 302.98,280.10 303.15,277.81 303.32,275.53 303.48,273.24 303.65,270.96 303.82,268.67 303.99,266.39 304.16,264.10 304.34,261.82 304.51,259.53 304.68,257.25 304.86,254.96 305.03,252.68 305.21,250.40 305.39,248.11 305.56,245.83 305.74,243.54 305.92,241.26 306.10,238.97 306.28,236.69 306.47,234.41 306.65,232.12 306.83,229.84 307.02,227.56 307.20,225.27 307.39,222.99 307.58,220.70 307.77,218.42 307.96,216.14 308.15,213.85 308.34,211.57 308.53,209.29 308.72,207.01 308.91,204.72 309.11,202.44 309.30,200.16 309.50,197.87 309.70,195.59 309.89,193.31 310.09,191.03 310.29,188.74 310.49,186.46 310.69,184.18 310.90,181.90 311.10,179.61 311.30,177.33 311.51,175.05 311.71,172.77 311.92,170.49 312.13,168.20 312.33,165.92 312.54,163.64 312.75,161.36 312.96,159.08 313.18,156.80 313.39,154.52 313.60,152.23 313.81,149.95 314.03,147.67 314.25,145.39 314.46,143.11 314.68,140.83 314.90,138.55 315.12,136.27 315.34,133.99 315.56,131.71 315.78,129.43 316.00,127.15 316.23,124.87 316.45,122.59 316.68,120.31 316.90,118.03 317.13,115.75 317.36,113.47 317.59,111.19 317.81,108.91 318.05,106.63 318.28,104.35 318.51,102.07 318.74,99.79 318.98,97.51 319.21,95.23 319.45,92.95 319.68,90.67 319.92,88.39 320.16,86.11 320.40,83.84 320.64,81.56 320.88,79.28 321.12,77.00 321.36,74.72 321.60,72.44 321.85,70.17 322.09,67.89 322.34,65.61 322.58,63.33 322.83,61.05 323.08,58.78 323.33,56.50 323.58,54.22 323.83,51.94 324.08,49.67 324.34,47.39 324.59,45.11 324.84,42.84 325.10,40.56 325.35,38.28 325.61,36.01 325.87,33.73 326.13,31.45 326.39,29.18 326.65,26.90 326.91,24.62 327.17,22.35 327.43,20.07 327.70,17.79 327.96,15.52 328.23,13.24 328.49,10.97 328.76,8.69 329.03,6.42 329.30,4.14 329.57,1.87 329.84,-0.41 330.11,-2.68 330.38,-4.96 330.66,-7.23 330.93,-9.51 331.20,-11.78 331.48,-14.06 331.76,-16.33 332.03,-18.61 332.31,-20.88 332.59,-23.15 332.87,-25.43 333.15,-27.70 333.43,-29.98 333.72,-32.25 334.00,-34.52 334.29,-36.80 334.57,-39.07 334.86,-41.34 335.14,-43.62 337.26,-43.35 336.97,-41.08 336.69,-38.80 336.40,-36.53 336.12,-34.26 335.84,-31.99 335.55,-29.71 335.27,-27.44 334.99,-25.17 334.71,-22.89 334.43,-20.62 334.15,-18.35 333.88,-16.07 333.60,-13.80 333.32,-11.53 333.05,-9.25 332.77,-6.98 332.50,-4.70 332.23,-2.43 331.96,-0.16 331.69,2.12 331.42,4.39 331.15,6.67 330.88,8.94 330.61,11.22 330.35,13.49 330.08,15.77 329.82,18.04 329.55,20.32 329.29,22.59 329.03,24.87 328.77,27.14 328.51,29.42 328.25,31.69 327.99,33.97 327.73,36.24 327.48,38.52 327.22,40.80 326.96,43.07 326.71,45.35 326.46,47.63 326.20,49.90 325.95,52.18 325.70,54.45 325.45,56.73 325.20,59.01 324.95,61.29 324.71,63.56 324.46,65.84 324.21,68.12 323.97,70.39 323.73,72.67 323.48,74.95 323.24,77.23 323.00,79.50 322.76,81.78 322.52,84.06 322.28,86.34 322.04,88.61 321.80,90.89 321.57,93.17 321.33,95.45 321.10,97.73 320.86,100.01 320.63,102.28 320.40,104.56 320.17,106.84 319.94,109.12 319.71,111.40 319.48,113.68 319.25,115.96 319.03,118.24 318.80,120.52 318.57,122.79 318.35,125.07 318.13,127.35 317.90,129.63 317.68,131.91 317.46,134.19 317.24,136.47 317.02,138.75 316.80,141.03 316.59,143.31 316.37,145.59 316.15,147.87 315.94,150.15 315.73,152.43 315.51,154.71 315.30,156.99 315.09,159.27 314.88,161.56 314.67,163.84 314.46,166.12 314.25,168.40 314.04,170.68 313.84,172.96 313.63,175.24 313.43,177.52 313.22,179.80 313.02,182.08 312.82,184.37 312.62,186.65 312.42,188.93 312.22,191.21 312.02,193.49 311.82,195.77 311.63,198.06 311.43,200.34 311.23,202.62 311.04,204.90 310.85,207.18 310.65,209.47 310.46,211.75 310.27,214.03 310.08,216.31 309.89,218.60 309.70,220.88 309.52,223.16 309.33,225.45 309.15,227.73 308.96,230.01 308.78,232.29 308.59,234.58 308.41,236.86 308.23,239.14 308.05,241.43 307.87,243.71 307.69,245.99 307.51,248.28 307.34,250.56 307.16,252.84 306.98,255.13 306.81,257.41 306.64,259.69 306.46,261.98 306.29,264.26 306.12,266.55 305.95,268.83 305.78,271.11 305.61,273.40 305.44,275.68 305.28,277.97 305.11,280.25 304.95,282.54 304.78,284.82 304.62,287.11 304.46,289.39 304.30,291.67 304.13,293.96 303.97,296.24 303.82,298.53 303.66,300.81 303.50,303.10 303.34,305.38 303.19,307.67 303.03,309.95 302.88,312.24 302.73,314.52 302.57,316.81 302.42,319.09 302.27,321.38 302.12,323.67 301.97,325.95 301.83,328.24 301.68,330.52 301.53,332.81 301.39,335.09 301.24,337.38 301.10,339.67 300.96,341.95 300.82,344.24 300.67,346.52 300.53,348.81 300.40,351.10 300.26,353.38 300.12,355.67 299.98,357.95 299.85,360.24 299.71,362.53 299.58,364.81 299.44,367.10 299.31,369.39 299.18,371.67 299.05,373.96 298.92,376.25 298.79,378.53 298.66,380.82 298.54,383.11 298.41,385.39 298.28,387.68 298.16,389.97 298.04,392.25 297.91,394.54 297.79,396.83 297.67,399.12 297.55,401.40 297.43,403.69 297.31,405.98 297.19,408.27 297.08,410.55 296.96,412.84 296.85,415.13 296.73,417.42 296.62,419.70 296.50,421.99 296.39,424.28 296.28,426.57 296.17,428.85 296.06,431.14 295.95,433.43 295.85,435.72 295.74,438.00 295.64,440.29 295.53,442.58 295.43,444.87 295.32,447.16 295.22,449.44 295.12,451.73 295.02,454.02 294.92,456.31 294.82,458.60 294.72,460.89 294.63,463.17 294.53,465.46 294.43,467.75 294.34,470.04 294.25,472.33 294.15,474.62 294.06,476.90 293.97,479.19 293.88,481.48 293.79,483.77 293.70,486.06 293.61,488.35 293.53,490.64 293.44,492.93 293.36,495.21 293.27,497.50 293.19,499.79 293.11,502.08 293.02,504.37 292.94,506.66 292.86,508.95 292.79,511.24 292.71,513.53 292.63,515.81 292.55,518.10 292.48,520.39 292.40,522.68 292.33,524.97 292.26,527.26 292.18,529.55 292.11,531.84 292.04,534.13 291.97,536.42 291.90,538.71 291.84,541.00 291.77,543.29 291.70,545.57 291.64,547.86 291.57,550.15 291.51,552.44 291.45,554.73 291.39,557.02 291.32,559.31 291.26,561.60 291.21,563.89 291.15,566.18 291.09,568.47 291.03,570.76 290.98,573.05 290.92,575.34 290.87,577.63 290.82,579.92 290.76,582.21 290.71,584.50 290.66,586.79 290.61,589.08 290.56,591.37 290.51,593.66 290.47,595.95 290.42,598.24 290.38,600.53 290.33,602.82 290.29,605.11 290.24,607.40 290.20,609.69 290.16,611.98 290.12,614.27 290.08,616.56 290.04,618.85 290.01,621.14 289.97,623.43 289.93,625.72 289.90,628.01 289.86,630.30 289.83,632.59 289.80,634.88 289.77,637.17 289.73,639.46 289.70,641.75 289.68,644.04" fill="#606060"/></g><clipPath id="c2"><polygon points="336.49,152.69 336.71,150.41 336.92,148.13 337.14,145.85 337.36,143.57 337.57,141.29 337.79,139.01 338.01,136.73 338.23,134.46 338.45,132.18 338.68,129.90 338.90,127.62 339.12,125.34 339.35,123.06 339.57,120.78 339.80,118.51 340.03,116.23 340.26,113.95 340.49,111.67 340.72,109.39 340.95,107.11 341.18,104.84 341.41,102.56 341.64,100.28 341.88,98.00 342.11,95.73 342.35,93.45 342.59,91.17 342.82,88.89 343.06,86.62 343.30,84.34 343.54,82.06 343.78,79.79 344.03,77.51 344.27,75.23 344.51,72.96 344.76,70.68 345.00,68.40 345.25,66.13 345.50,63.85 345.74,61.58 345.99,59.30 346.24,57.02 346.49,54.75 346.75,52.47 347.00,50.20 347.25,47.92 347.51,45.65 347.76,43.37 348.02,41.09 348.27,38.82 348.53,36.54 348.79,34.27 349.05,31.99 349.31,29.72 349.57,27.45 349.83,25.17 350.09,22.90 350.36,20.62 350.62,18.35 350.89,16.07 351.15,13.80 351.42,11.53 351.69,9.25 351.96,6.98 352.23,4.70 352.50,2.43 352.77,0.16 353.04,-2.12 353.31,-4.39 353.59,-6.66 353.86,-8.94 354.14,-11.21 354.41,-13.48 354.69,-15.75 354.97,-18.03 368.96,-16.31 368.69,-14.04 368.41,-11.78 368.13,-9.51 367.86,-7.24 367.58,-4.97 367.31,-2.71 367.04,-0.44 366.77,1.83 366.50,4.10 366.23,6.37 365.96,8.63 365.69,10.90 365.42,13.17 365.16,15.44 364.89,17.71 364.63,19.98 364.36,22.25 364.10,24.52 363.84,26.79 363.58,29.05 363.32,31.32 363.06,33.59 362.80,35.86 362.54,38.13 362.28,40.40 362.03,42.67 361.77,44.94 361.52,47.21 361.26,49.48 361.01,51.75 360.76,54.02 360.51,56.29 360.26,58.56 360.01,60.83 359.76,63.11 359.51,65.38 359.27,67.65 359.02,69.92 358.78,72.19 358.53,74.46 358.29,76.73 358.05,79.00 357.81,81.27 357.56,83.55 357.33,85.82 357.09,88.09 356.85,90.36 356.61,92.63 356.37,94.91 356.14,97.18 355.90,99.45 355.67,101.72 355.44,103.99 355.21,106.27 354.97,108.54 354.74,110.81 354.51,113.08 354.29,115.36 354.06,117.63 353.83,119.90 353.61,122.18 353.38,124.45 353.16,126.72 352.93,129.00 352.71,131.27 352.49,133.54 352.27,135.82 352.05,138.09 351.83,140.36 351.61,142.64 351.39,144.91 351.18,147.19 350.96,149.46 350.74,151.73 350.53,154.01"/></clipPath><polygon points="336.49,152.69 336.71,150.41 336.92,148.13 337.14,145.85 337.36,143.57 337.57,141.29 337.79,139.01 338.01,136.73 338.23,134.46 338.45,132.18 338.68,129.90 338.90,127.62 339.12,125.34 339.35,123.06 339.57,120.78 339.80,118.51 340.03,116.23 340.26,113.95 340.49,111.67 340.72,109.39 340.95,107.11 341.18,104.84 341.41,102.56 341.64,100.28 341.88,98.00 342.11,95.73 342.35,93.45 342.59,91.17 342.82,88.89 343.06,86.62 343.30,84.34 343.54,82.06 343.78,79.79 344.03,77.51 344.27,75.23 344.51,72.96 344.76,70.68 345.00,68.40 345.25,66.13 345.50,63.85 345.74,61.58 345.99,59.30 346.24,57.02 346.49,54.75 346.75,52.47 347.00,50.20 347.25,47.92 347.51,45.65 347.76,43.37 348.02,41.09 348.27,38.82 348.53,36.54 348.79,34.27 349.05,31.99 349.31,29.72 349.57,27.45 349.83,25.17 350.09,22.90 350.36,20.62 350.62,18.35 350.89,16.07 351.15,13.80 351.42,11.53 351.69,9.25 351.96,6.98 352.23,4.70 352.50,2.43 352.77,0.16 353.04,-2.12 353.31,-4.39 353.59,-6.66 353.86,-8.94 354.14,-11.21 354.41,-13.48 354.69,-15.75 354.97,-18.03 368.96,-16.31 368.69,-14.04 368.41,-11.78 368.13,-9.51 367.86,-7.24 367.58,-4.97 367.31,-2.71 367.04,-0.44 366.77,1.83 366.50,4.10 366.23,6.37 365.96,8.63 365.69,10.90 365.42,13.17 365.16,15.44 364.89,17.71 364.63,19.98 364.36,22.25 364.10,24.52 363.84,26.79 363.58,29.05 363.32,31.32 363.06,33.59 362.80,35.86 362.54,38.13 362.28,40.40 362.03,42.67 361.77,44.94 361.52,47.21 361.26,49.48 361.01,51.75 360.76,54.02 360.51,56.29 360.26,58.56 360.01,60.83 359.76,63.11 359.51,65.38 359.27,67.65 359.02,69.92 358.78,72.19 358.53,74.46 358.29,76.73 358.05,79.00 357.81,81.27 357.56,83.55 357.33,85.82 357.09,88.09 356.85,90.36 356.61,92.63 356.37,94.91 356.14,97.18 355.90,99.45 355.67,101.72 355.44,103.99 355.21,106.27 354.97,108.54 354.74,110.81 354.51,113.08 354.29,115.36 354.06,117.63 353.83,119.90 353.61,122.18 353.38,124.45 353.16,126.72 352.93,129.00 352.71,131.27 352.49,133.54 352.27,135.82 352.05,138.09 351.83,140.36 351.61,142.64 351.39,144.91 351.18,147.19 350.96,149.46 350.74,151.73 350.53,154.01" fill="#ff1493"/><g clip-path="url(#c2)"><polygon points="333.40,175.40 333.60,173.12 333.81,170.84 334.02,168.56 334.23,166.28 334.44,164.00 334.65,161.72 334.86,159.44 335.07,157.16 335.28,154.88 335.50,152.60 335.71,150.32 335.93,148.04 336.14,145.76 336.36,143.48 336.58,141.20 336.80,138.92 337.02,136.64 337.24,134.36 337.46,132.08 337.68,129.80 337.90,127.52 338.13,125.25 338.35,122.97 338.58,120.69 338.81,118.41 339.03,116.13 339.26,113.85 339.49,111.57 339.72,109.29 339.95,107.02 340.18,104.74 340.42,102.46 340.65,100.18 340.88,97.90 341.12,95.63 341.36,93.35 341.59,91.07 341.83,88.79 342.07,86.51 342.31,84.24 342.55,81.96 342.79,79.68 343.03,77.40 343.27,75.13 343.52,72.85 343.76,70.57 344.01,68.30 344.26,66.02 344.50,63.74 344.75,61.47 345.00,59.19 345.25,56.91 345.50,54.64 345.75,52.36 346.00,50.08 346.26,47.81 346.51,45.53 346.77,43.26 347.02,40.98 347.28,38.71 347.54,36.43 347.80,34.15 348.05,31.88 348.31,29.60 348.58,27.33 348.84,25.05 349.10,22.78 349.36,20.50 349.63,18.23 349.89,15.95 350.16,13.68 350.43,11.41 350.69,9.13 350.96,6.86 351.23,4.58 351.50,2.31 351.77,0.03 352.05,-2.24 352.32,-4.51 352.59,-6.79 352.87,-9.06 353.14,-11.33 353.42,-13.61 353.70,-15.88 353.98,-18.15 354.26,-20.43 354.53,-22.70 354.82,-24.97 355.10,-27.24 355.38,-29.52 355.66,-31.79 355.95,-34.06 356.23,-36.33 356.52,-38.61 356.80,-40.88 360.73,-40.38 360.45,-38.11 360.16,-35.84 359.88,-33.57 359.59,-31.30 359.31,-29.03 359.03,-26.76 358.75,-24.49 358.47,-22.21 358.19,-19.94 357.91,-17.67 357.63,-15.40 357.35,-13.13 357.08,-10.86 356.80,-8.58 356.53,-6.31 356.25,-4.04 355.98,-1.77 355.71,0.50 355.44,2.78 355.17,5.05 354.90,7.32 354.63,9.60 354.36,11.87 354.09,14.14 353.83,16.41 353.56,18.69 353.30,20.96 353.04,23.23 352.77,25.51 352.51,27.78 352.25,30.05 351.99,32.33 351.73,34.60 351.47,36.88 351.22,39.15 350.96,41.42 350.70,43.70 350.45,45.97 350.19,48.25 349.94,50.52 349.69,52.80 349.44,55.07 349.19,57.35 348.94,59.62 348.69,61.90 348.44,64.17 348.19,66.45 347.95,68.72 347.70,71.00 347.46,73.27 347.21,75.55 346.97,77.82 346.73,80.10 346.49,82.38 346.25,84.65 346.01,86.93 345.77,89.20 345.53,91.48 345.30,93.76 345.06,96.03 344.82,98.31 344.59,100.59 344.36,102.86 344.12,105.14 343.89,107.42 343.66,109.69 343.43,111.97 343.20,114.25 342.97,116.52 342.75,118.80 342.52,121.08 342.29,123.36 342.07,125.63 341.85,127.91 341.62,130.19 341.40,132.47 341.18,134.74 340.96,137.02 340.74,139.30 340.52,141.58 340.30,143.86 340.09,146.14 339.87,148.41 339.65,150.69 339.44,152.97 339.23,155.25 339.01,157.53 338.80,159.81 338.59,162.09 338.38,164.36 338.17,166.64 337.96,168.92 337.76,171.20 337.55,173.48 337.34,175.76" fill="#ff4fae"/><polygon points="345.49,176.49 345.69,174.22 345.90,171.94 346.11,169.67 346.32,167.39 346.52,165.11 346.73,162.84 346.94,160.56 347.16,158.29 347.37,156.01 347.58,153.74 347.80,151.46 348.01,149.18 348.23,146.91 348.44,144.63 348.66,142.36 348.88,140.08 349.10,137.81 349.32,135.53 349.54,133.26 349.76,130.98 349.99,128.71 350.21,126.44 350.43,124.16 350.66,121.89 350.88,119.61 351.11,117.34 351.34,115.06 351.57,112.79 351.80,110.52 352.03,108.24 352.26,105.97 352.49,103.69 352.73,101.42 352.96,99.15 353.19,96.87 353.43,94.60 353.67,92.33 353.90,90.05 354.14,87.78 354.38,85.51 354.62,83.24 354.86,80.96 355.10,78.69 355.35,76.42 355.59,74.15 355.83,71.87 356.08,69.60 356.32,67.33 356.57,65.06 356.82,62.78 357.07,60.51 357.32,58.24 357.57,55.97 357.82,53.70 358.07,51.42 358.32,49.15 358.58,46.88 358.83,44.61 359.09,42.34 359.34,40.07 359.60,37.80 359.86,35.53 360.12,33.26 360.37,30.99 360.64,28.71 360.90,26.44 361.16,24.17 361.42,21.90 361.69,19.63 361.95,17.36 362.22,15.09 362.48,12.82 362.75,10.55 363.02,8.28 363.29,6.01 363.56,3.74 363.83,1.47 364.10,-0.79 364.37,-3.06 364.65,-5.33 364.92,-7.60 365.19,-9.87 365.47,-12.14 365.75,-14.41 366.02,-16.68 366.30,-18.95 366.58,-21.21 366.86,-23.48 367.14,-25.75 367.43,-28.02 367.71,-30.29 367.99,-32.55 368.28,-34.82 368.56,-37.09 368.85,-39.36 372.78,-38.86 372.49,-36.59 372.21,-34.33 371.92,-32.06 371.64,-29.80 371.36,-27.53 371.07,-25.26 370.79,-23.00 370.51,-20.73 370.23,-18.46 369.96,-16.19 369.68,-13.93 369.40,-11.66 369.13,-9.39 368.85,-7.13 368.58,-4.86 368.30,-2.59 368.03,-0.32 367.76,1.94 367.49,4.21 367.22,6.48 366.95,8.75 366.68,11.02 366.42,13.29 366.15,15.55 365.88,17.82 365.62,20.09 365.36,22.36 365.09,24.63 364.83,26.90 364.57,29.17 364.31,31.44 364.05,33.71 363.79,35.97 363.53,38.24 363.28,40.51 363.02,42.78 362.77,45.05 362.51,47.32 362.26,49.59 362.01,51.86 361.75,54.13 361.50,56.40 361.25,58.67 361.00,60.94 360.76,63.21 360.51,65.48 360.26,67.75 360.02,70.03 359.77,72.30 359.53,74.57 359.28,76.84 359.04,79.11 358.80,81.38 358.56,83.65 358.32,85.92 358.08,88.20 357.84,90.47 357.61,92.74 357.37,95.01 357.13,97.28 356.90,99.55 356.67,101.83 356.43,104.10 356.20,106.37 355.97,108.64 355.74,110.91 355.51,113.19 355.28,115.46 355.05,117.73 354.83,120.01 354.60,122.28 354.37,124.55 354.15,126.82 353.93,129.10 353.70,131.37 353.48,133.64 353.26,135.92 353.04,138.19 352.82,140.46 352.60,142.74 352.39,145.01 352.17,147.28 351.95,149.56 351.74,151.83 351.53,154.11 351.31,156.38 351.10,158.65 350.89,160.93 350.68,163.20 350.47,165.48 350.26,167.75 350.05,170.03 349.84,172.30 349.64,174.58 349.43,176.85" fill="#bf0f6e"/></g><clipPath id="c3"><polygon points="332.18,200.68 332.37,198.43 332.57,196.18 332.76,193.92 332.96,191.67 333.16,189.42 333.35,187.16 333.55,184.91 333.75,182.66 333.95,180.41 334.15,178.15 334.36,175.90 334.56,173.65 334.76,171.40 334.97,169.15 335.17,166.89 335.38,164.64 335.59,162.39 335.80,160.14 336.01,157.89 350.05,159.19 349.84,161.44 349.63,163.69 349.42,165.93 349.22,168.18 349.01,170.43 348.81,172.67 348.60,174.92 348.40,177.17 348.20,179.41 348.00,181.66 347.80,183.91 347.60,186.16 347.40,188.40 347.20,190.65 347.00,192.90 346.81,195.15 346.61,197.39 346.42,199.64 346.22,201.89"/></clipPath><polygon points="332.18,200.68 332.37,198.43 332.57,196.18 332.76,193.92 332.96,191.67 333.16,189.42 333.35,187.16 333.55,184.91 333.75,182.66 333.95,180.41 334.15,178.15 334.36,175.90 334.56,173.65 334.76,171.40 334.97,169.15 335.17,166.89 335.38,164.64 335.59,162.39 335.80,160.14 336.01,157.89 350.05,159.19 349.84,161.44 349.63,163.69 349.42,165.93 349.22,168.18 349.01,170.43 348.81,172.67 348.60,174.92 348.40,177.17 348.20,179.41 348.00,181.66 347.80,183.91 347.60,186.16 347.40,188.40 347.20,190.65 347.00,192.90 346.81,195.15 346.61,197.39 346.42,199.64 346.22,201.89" fill="#6a5acd"/><g clip-path="url(#c3)"><polygon points="329.26,223.42 329.45,221.15 329.64,218.88 329.83,216.61 330.01,214.35 330.20,212.08 330.40,209.81 330.59,207.54 330.78,205.27 330.97,203.00 331.17,200.74 331.36,198.47 331.56,196.20 331.76,193.93 331.95,191.66 332.15,189.40 332.35,187.13 332.55,184.86 332.75,182.59 332.96,180.33 333.16,178.06 333.36,175.79 333.57,173.52 333.77,171.26 333.98,168.99 334.19,166.72 334.39,164.46 334.60,162.19 334.81,159.92 335.02,157.65 335.24,155.39 335.45,153.12 335.66,150.86 335.87,148.59 336.09,146.32 336.30,144.06 336.52,141.79 336.74,139.52 336.96,137.26 337.18,134.99 341.12,135.37 340.90,137.64 340.68,139.90 340.46,142.17 340.25,144.43 340.03,146.70 339.82,148.96 339.60,151.23 339.39,153.49 339.18,155.76 338.97,158.02 338.76,160.29 338.55,162.55 338.34,164.82 338.13,167.08 337.92,169.35 337.72,171.61 337.51,173.88 337.31,176.15 337.10,178.41 336.90,180.68 336.70,182.94 336.50,185.21 336.30,187.48 336.10,189.74 335.90,192.01 335.70,194.28 335.51,196.54 335.31,198.81 335.11,201.07 334.92,203.34 334.73,205.61 334.53,207.87 334.34,210.14 334.15,212.41 333.96,214.68 333.77,216.94 333.58,219.21 333.40,221.48 333.21,223.74" fill="#8f83da"/><polygon points="341.36,224.41 341.55,222.15 341.73,219.89 341.92,217.62 342.11,215.36 342.30,213.09 342.49,210.83 342.68,208.57 342.88,206.30 343.07,204.04 343.26,201.77 343.46,199.51 343.65,197.25 343.85,194.98 344.05,192.72 344.25,190.46 344.44,188.19 344.64,185.93 344.85,183.67 345.05,181.41 345.25,179.14 345.45,176.88 345.66,174.62 345.86,172.35 346.07,170.09 346.27,167.83 346.48,165.57 346.69,163.30 346.90,161.04 347.11,158.78 347.32,156.52 347.53,154.26 347.75,151.99 347.96,149.73 348.17,147.47 348.39,145.21 348.61,142.95 348.82,140.69 349.04,138.42 349.26,136.16 353.20,136.54 352.98,138.80 352.76,141.06 352.55,143.32 352.33,145.58 352.12,147.84 351.90,150.11 351.69,152.37 351.48,154.63 351.27,156.89 351.05,159.15 350.84,161.41 350.64,163.67 350.43,165.93 350.22,168.19 350.01,170.45 349.81,172.71 349.60,174.97 349.40,177.23 349.19,179.50 348.99,181.76 348.79,184.02 348.59,186.28 348.39,188.54 348.19,190.80 347.99,193.07 347.80,195.33 347.60,197.59 347.40,199.85 347.21,202.11 347.02,204.38 346.82,206.64 346.63,208.90 346.44,211.16 346.25,213.43 346.06,215.69 345.87,217.95 345.68,220.21 345.49,222.48 345.31,224.74" fill="#50449a"/></g><clipPath id="c4"><polygon points="327.01,264.83 327.18,262.55 327.35,260.28 327.52,258.01 327.70,255.73 327.87,253.46 328.05,251.19 328.23,248.92 328.40,246.64 328.58,244.37 328.76,242.10 328.94,239.83 329.12,237.55 329.30,235.28 329.49,233.01 329.67,230.74 329.85,228.46 330.04,226.19 330.22,223.92 330.41,221.65 330.60,219.38 330.79,217.10 330.98,214.83 331.17,212.56 331.36,210.29 331.55,208.02 331.74,205.75 345.79,206.94 345.60,209.21 345.41,211.47 345.22,213.74 345.03,216.01 344.84,218.27 344.65,220.54 344.46,222.81 344.28,225.07 344.09,227.34 343.91,229.61 343.72,231.87 343.54,234.14 343.36,236.41 343.18,238.67 343.00,240.94 342.82,243.21 342.64,245.48 342.46,247.74 342.28,250.01 342.11,252.28 341.93,254.55 341.76,256.81 341.58,259.08 341.41,261.35 341.24,263.62 341.07,265.89"/></clipPath><polygon points="327.01,264.83 327.18,262.55 327.35,260.28 327.52,258.01 327.70,255.73 327.87,253.46 328.05,251.19 328.23,248.92 328.40,246.64 328.58,244.37 328.76,242.10 328.94,239.83 329.12,237.55 329.30,235.28 329.49,233.01 329.67,230.74 329.85,228.46 330.04,226.19 330.22,223.92 330.41,221.65 330.60,219.38 330.79,217.10 330.98,214.83 331.17,212.56 331.36,210.29 331.55,208.02 331.74,205.75 345.79,206.94 345.60,209.21 345.41,211.47 345.22,213.74 345.03,216.01 344.84,218.27 344.65,220.54 344.46,222.81 344.28,225.07 344.09,227.34 343.91,229.61 343.72,231.87 343.54,234.14 343.36,236.41 343.18,238.67 343.00,240.94 342.82,243.21 342.64,245.48 342.46,247.74 342.28,250.01 342.11,252.28 341.93,254.55 341.76,256.81 341.58,259.08 341.41,261.35 341.24,263.62 341.07,265.89" fill="#f0e68c"/><g clip-path="url(#c4)"><polygon points="324.33,287.60 324.50,285.32 324.66,283.04 324.83,280.76 324.99,278.48 325.16,276.20 325.33,273.92 325.50,271.65 325.66,269.37 325.83,267.09 326.01,264.81 326.18,262.53 326.35,260.26 326.52,257.98 326.70,255.70 326.87,253.42 327.05,251.14 327.23,248.87 327.40,246.59 327.58,244.31 327.76,242.03 327.94,239.76 328.12,237.48 328.31,235.20 328.49,232.92 328.67,230.65 328.86,228.37 329.04,226.09 329.23,223.82 329.42,221.54 329.61,219.26 329.79,216.99 329.98,214.71 330.17,212.43 330.37,210.16 330.56,207.88 330.75,205.60 330.95,203.33 331.14,201.05 331.34,198.77 331.53,196.50 331.73,194.22 331.93,191.95 332.13,189.67 332.33,187.39 332.53,185.12 332.73,182.84 336.68,183.19 336.48,185.47 336.27,187.74 336.07,190.02 335.88,192.29 335.68,194.56 335.48,196.84 335.28,199.11 335.09,201.39 334.89,203.66 334.70,205.94 334.51,208.21 334.31,210.49 334.12,212.76 333.93,215.04 333.74,217.31 333.55,219.59 333.36,221.86 333.18,224.14 332.99,226.41 332.81,228.69 332.62,230.97 332.44,233.24 332.25,235.52 332.07,237.79 331.89,240.07 331.71,242.35 331.53,244.62 331.35,246.90 331.18,249.17 331.00,251.45 330.82,253.73 330.65,256.00 330.47,258.28 330.30,260.56 330.13,262.83 329.96,265.11 329.78,267.39 329.61,269.66 329.45,271.94 329.28,274.22 329.11,276.49 328.94,278.77 328.78,281.05 328.61,283.32 328.45,285.60 328.29,287.88" fill="#f4eca9"/><polygon points="336.44,288.46 336.61,286.19 336.77,283.91 336.93,281.64 337.10,279.37 337.27,277.09 337.43,274.82 337.60,272.54 337.77,270.27 337.94,268.00 338.11,265.72 338.28,263.45 338.45,261.18 338.63,258.90 338.80,256.63 338.98,254.36 339.15,252.08 339.33,249.81 339.51,247.54 339.68,245.26 339.86,242.99 340.04,240.72 340.22,238.44 340.41,236.17 340.59,233.90 340.77,231.63 340.96,229.35 341.14,227.08 341.33,224.81 341.52,222.54 341.70,220.26 341.89,217.99 342.08,215.72 342.27,213.45 342.46,211.18 342.65,208.90 342.85,206.63 343.04,204.36 343.24,202.09 343.43,199.82 343.63,197.54 343.82,195.27 344.02,193.00 344.22,190.73 344.42,188.46 344.62,186.19 344.82,183.92 348.77,184.27 348.57,186.54 348.37,188.81 348.17,191.08 347.97,193.35 347.77,195.62 347.57,197.89 347.38,200.16 347.18,202.43 346.99,204.70 346.79,206.97 346.60,209.24 346.41,211.51 346.22,213.78 346.03,216.05 345.84,218.32 345.65,220.59 345.46,222.86 345.28,225.13 345.09,227.40 344.91,229.67 344.72,231.95 344.54,234.22 344.36,236.49 344.17,238.76 343.99,241.03 343.81,243.30 343.63,245.57 343.46,247.84 343.28,250.12 343.10,252.39 342.93,254.66 342.75,256.93 342.58,259.20 342.40,261.48 342.23,263.75 342.06,266.02 341.89,268.29 341.72,270.56 341.55,272.84 341.38,275.11 341.22,277.38 341.05,279.65 340.88,281.93 340.72,284.20 340.56,286.47 340.39,288.74" fill="#b4ac69"/></g><clipPath id="c5"><polygon points="321.09,351.84 321.23,349.58 321.36,347.33 321.50,345.08 321.64,342.83 321.78,340.57 321.93,338.32 322.07,336.07 322.21,333.82 322.36,331.56 322.50,329.31 322.65,327.06 322.79,324.81 322.94,322.55 323.09,320.30 323.24,318.05 323.39,315.80 323.54,313.55 323.69,311.30 323.84,309.04 324.00,306.79 324.15,304.54 324.30,302.29 324.46,300.04 324.62,297.79 324.77,295.53 324.93,293.28 325.09,291.03 325.25,288.78 325.41,286.53 325.58,284.28 325.74,282.03 325.90,279.78 326.07,277.53 340.13,278.55 339.96,280.80 339.80,283.05 339.64,285.29 339.48,287.54 339.32,289.78 339.16,292.03 339.00,294.28 338.84,296.52 338.68,298.77 338.53,301.01 338.37,303.26 338.22,305.51 338.06,307.75 337.91,310.00 337.76,312.25 337.61,314.49 337.46,316.74 337.31,318.99 337.16,321.23 337.01,323.48 336.86,325.73 336.72,327.97 336.57,330.22 336.43,332.47 336.28,334.71 336.14,336.96 336.00,339.21 335.86,341.45 335.72,343.70 335.58,345.95 335.44,348.20 335.30,350.44 335.16,352.69"/></clipPath><polygon points="321.09,351.84 321.23,349.58 321.36,347.33 321.50,345.08 321.64,342.83 321.78,340.57 321.93,338.32 322.07,336.07 322.21,333.82 322.36,331.56 322.50,329.31 322.65,327.06 322.79,324.81 322.94,322.55 323.09,320.30 323.24,318.05 323.39,315.80 323.54,313.55 323.69,311.30 323.84,309.04 324.00,306.79 324.15,304.54 324.30,302.29 324.46,300.04 324.62,297.79 324.77,295.53 324.93,293.28 325.09,291.03 325.25,288.78 325.41,286.53 325.58,284.28 325.74,282.03 325.90,279.78 326.07,277.53 340.13,278.55 339.96,280.80 339.80,283.05 339.64,285.29 339.48,287.54 339.32,289.78 339.16,292.03 339.00,294.28 338.84,296.52 338.68,298.77 338.53,301.01 338.37,303.26 338.22,305.51 338.06,307.75 337.91,310.00 337.76,312.25 337.61,314.49 337.46,316.74 337.31,318.99 337.16,321.23 337.01,323.48 336.86,325.73 336.72,327.97 336.57,330.22 336.43,332.47 336.28,334.71 336.14,336.96 336.00,339.21 335.86,341.45 335.72,343.70 335.58,345.95 335.44,348.20 335.30,350.44 335.16,352.69" fill="#00bfff"/><g clip-path="url(#c5)"><polygon points="318.74,374.64 318.87,372.37 319.00,370.11 319.13,367.84 319.27,365.58 319.40,363.31 319.53,361.05 319.67,358.78 319.80,356.51 319.94,354.25 320.08,351.98 320.22,349.72 320.35,347.45 320.49,345.19 320.64,342.92 320.78,340.65 320.92,338.39 321.06,336.12 321.21,333.86 321.35,331.59 321.50,329.33 321.64,327.06 321.79,324.80 321.94,322.53 322.09,320.27 322.24,318.00 322.39,315.74 322.54,313.47 322.69,311.21 322.85,308.94 323.00,306.68 323.16,304.42 323.31,302.15 323.47,299.89 323.63,297.62 323.78,295.36 323.94,293.09 324.10,290.83 324.27,288.57 324.43,286.30 324.59,284.04 324.75,281.77 324.92,279.51 325.08,277.25 325.25,274.98 325.42,272.72 325.58,270.45 325.75,268.19 325.92,265.93 326.09,263.66 326.26,261.40 326.44,259.14 326.61,256.87 326.78,254.61 330.73,254.91 330.56,257.18 330.38,259.44 330.21,261.70 330.04,263.96 329.87,266.22 329.70,268.49 329.53,270.75 329.37,273.01 329.20,275.27 329.03,277.53 328.87,279.80 328.70,282.06 328.54,284.32 328.38,286.58 328.22,288.85 328.06,291.11 327.90,293.37 327.74,295.64 327.58,297.90 327.42,300.16 327.26,302.42 327.11,304.69 326.95,306.95 326.80,309.21 326.65,311.48 326.49,313.74 326.34,316.00 326.19,318.27 326.04,320.53 325.89,322.79 325.74,325.06 325.60,327.32 325.45,329.58 325.30,331.85 325.16,334.11 325.02,336.37 324.87,338.64 324.73,340.90 324.59,343.17 324.45,345.43 324.31,347.69 324.17,349.96 324.03,352.22 323.89,354.49 323.76,356.75 323.62,359.02 323.49,361.28 323.35,363.54 323.22,365.81 323.09,368.07 322.96,370.34 322.83,372.60 322.70,374.87" fill="#40cfff"/><polygon points="330.86,375.33 330.99,373.07 331.12,370.81 331.25,368.55 331.39,366.29 331.52,364.02 331.65,361.76 331.79,359.50 331.92,357.24 332.06,354.98 332.19,352.72 332.33,350.46 332.47,348.20 332.61,345.94 332.75,343.67 332.89,341.41 333.03,339.15 333.18,336.89 333.32,334.63 333.47,332.37 333.61,330.11 333.76,327.85 333.90,325.59 334.05,323.33 334.20,321.07 334.35,318.81 334.50,316.55 334.65,314.29 334.80,312.03 334.96,309.77 335.11,307.51 335.27,305.25 335.42,302.99 335.58,300.73 335.74,298.47 335.89,296.21 336.05,293.95 336.21,291.69 336.37,289.43 336.54,287.17 336.70,284.91 336.86,282.65 337.02,280.39 337.19,278.13 337.36,275.87 337.52,273.61 337.69,271.35 337.86,269.10 338.03,266.84 338.20,264.58 338.37,262.32 338.54,260.06 338.71,257.80 338.89,255.54 342.83,255.85 342.66,258.10 342.49,260.36 342.32,262.62 342.15,264.88 341.98,267.13 341.81,269.39 341.64,271.65 341.47,273.91 341.31,276.16 341.14,278.42 340.98,280.68 340.81,282.94 340.65,285.19 340.49,287.45 340.32,289.71 340.16,291.97 340.00,294.23 339.85,296.48 339.69,298.74 339.53,301.00 339.37,303.26 339.22,305.52 339.06,307.78 338.91,310.04 338.76,312.29 338.60,314.55 338.45,316.81 338.30,319.07 338.15,321.33 338.00,323.59 337.86,325.85 337.71,328.11 337.56,330.37 337.42,332.62 337.27,334.88 337.13,337.14 336.99,339.40 336.85,341.66 336.70,343.92 336.56,346.18 336.42,348.44 336.29,350.70 336.15,352.96 336.01,355.22 335.88,357.48 335.74,359.74 335.61,362.00 335.47,364.26 335.34,366.52 335.21,368.78 335.08,371.04 334.95,373.30 334.82,375.56" fill="#008fbf"/></g><clipPath id="c6"><polygon points="318.86,390.48 318.99,388.22 319.11,385.96 319.23,383.70 319.36,381.45 319.49,379.19 319.61,376.93 319.74,374.68 319.87,372.42 320.00,370.16 320.13,367.91 320.26,365.65 320.40,363.39 320.53,361.14 320.66,358.88 320.80,356.62 320.94,354.37 321.07,352.11 335.15,352.97 335.01,355.22 334.87,357.47 334.74,359.72 334.61,361.97 334.47,364.22 334.34,366.47 334.21,368.72 334.08,370.98 333.95,373.23 333.82,375.48 333.69,377.73 333.56,379.98 333.44,382.23 333.31,384.49 333.19,386.74 333.06,388.99 332.94,391.24"/></clipPath><polygon points="318.86,390.48 318.99,388.22 319.11,385.96 319.23,383.70 319.36,381.45 319.49,379.19 319.61,376.93 319.74,374.68 319.87,372.42 320.00,370.16 320.13,367.91 320.26,365.65 320.40,363.39 320.53,361.14 320.66,358.88 320.80,356.62 320.94,354.37 321.07,352.11 335.15,352.97 335.01,355.22 334.87,357.47 334.74,359.72 334.61,361.97 334.47,364.22 334.34,366.47 334.21,368.72 334.08,370.98 333.95,373.23 333.82,375.48 333.69,377.73 333.56,379.98 333.44,382.23 333.31,384.49 333.19,386.74 333.06,388.99 332.94,391.24" fill="#6b8e23"/><g clip-path="url(#c6)"><polygon points="316.66,413.30 316.78,411.02 316.89,408.75 317.01,406.47 317.13,404.20 317.25,401.93 317.37,399.65 317.49,397.38 317.61,395.10 317.73,392.83 317.86,390.56 317.98,388.28 318.11,386.01 318.23,383.74 318.36,381.46 318.49,379.19 318.61,376.92 318.74,374.64 318.87,372.37 319.00,370.10 319.14,367.82 319.27,365.55 319.40,363.28 319.54,361.00 319.67,358.73 319.81,356.46 319.94,354.19 320.08,351.91 320.22,349.64 320.36,347.37 320.50,345.10 320.64,342.82 320.78,340.55 320.93,338.28 321.07,336.01 321.21,333.73 321.36,331.46 321.51,329.19 325.46,329.44 325.31,331.71 325.17,333.99 325.02,336.26 324.88,338.53 324.74,340.80 324.59,343.07 324.45,345.34 324.31,347.61 324.17,349.88 324.04,352.15 323.90,354.43 323.76,356.70 323.63,358.97 323.49,361.24 323.36,363.51 323.22,365.78 323.09,368.05 322.96,370.33 322.83,372.60 322.70,374.87 322.57,377.14 322.44,379.41 322.31,381.68 322.19,383.96 322.06,386.23 321.94,388.50 321.81,390.77 321.69,393.04 321.57,395.32 321.44,397.59 321.32,399.86 321.20,402.13 321.09,404.41 320.97,406.68 320.85,408.95 320.73,411.22 320.62,413.50" fill="#90aa5a"/><polygon points="328.79,413.91 328.90,411.64 329.02,409.37 329.13,407.10 329.25,404.83 329.37,402.56 329.49,400.29 329.61,398.02 329.73,395.75 329.85,393.49 329.98,391.22 330.10,388.95 330.23,386.68 330.35,384.41 330.48,382.14 330.61,379.87 330.73,377.60 330.86,375.33 330.99,373.07 331.12,370.80 331.25,368.53 331.39,366.26 331.52,363.99 331.65,361.72 331.79,359.45 331.92,357.19 332.06,354.92 332.20,352.65 332.34,350.38 332.48,348.11 332.62,345.85 332.76,343.58 332.90,341.31 333.04,339.04 333.18,336.77 333.33,334.51 333.47,332.24 333.62,329.97 337.57,330.23 337.43,332.49 337.28,334.76 337.14,337.02 336.99,339.29 336.85,341.56 336.71,343.82 336.57,346.09 336.43,348.36 336.29,350.62 336.15,352.89 336.01,355.16 335.88,357.42 335.74,359.69 335.61,361.96 335.47,364.22 335.34,366.49 335.21,368.76 335.08,371.03 334.95,373.29 334.82,375.56 334.69,377.83 334.56,380.09 334.43,382.36 334.31,384.63 334.18,386.90 334.06,389.16 333.93,391.43 333.81,393.70 333.69,395.97 333.57,398.23 333.45,400.50 333.33,402.77 333.21,405.04 333.09,407.31 332.97,409.57 332.86,411.84 332.74,414.11" fill="#506a1a"/></g><clipPath id="c7"><polygon points="315.62,456.72 315.72,454.47 315.82,452.22 315.92,449.97 316.02,447.72 316.12,445.47 316.22,443.21 316.33,440.96 316.43,438.71 316.54,436.46 316.64,434.21 316.75,431.96 316.85,429.71 316.96,427.46 317.07,425.21 317.18,422.96 317.29,420.71 317.40,418.46 317.52,416.21 317.63,413.96 317.74,411.71 317.86,409.46 317.98,407.21 318.09,404.96 318.21,402.71 318.33,400.46 318.45,398.21 332.53,398.95 332.41,401.20 332.29,403.44 332.17,405.69 332.06,407.93 331.94,410.18 331.83,412.42 331.71,414.67 331.60,416.91 331.49,419.16 331.38,421.40 331.27,423.65 331.16,425.89 331.05,428.14 330.94,430.38 330.83,432.63 330.73,434.88 330.62,437.12 330.52,439.37 330.41,441.61 330.31,443.86 330.21,446.10 330.10,448.35 330.00,450.59 329.90,452.84 329.81,455.09 329.71,457.33"/></clipPath><polygon points="315.62,456.72 315.72,454.47 315.82,452.22 315.92,449.97 316.02,447.72 316.12,445.47 316.22,443.21 316.33,440.96 316.43,438.71 316.54,436.46 316.64,434.21 316.75,431.96 316.85,429.71 316.96,427.46 317.07,425.21 317.18,422.96 317.29,420.71 317.40,418.46 317.52,416.21 317.63,413.96 317.74,411.71 317.86,409.46 317.98,407.21 318.09,404.96 318.21,402.71 318.33,400.46 318.45,398.21 332.53,398.95 332.41,401.20 332.29,403.44 332.17,405.69 332.06,407.93 331.94,410.18 331.83,412.42 331.71,414.67 331.60,416.91 331.49,419.16 331.38,421.40 331.27,423.65 331.16,425.89 331.05,428.14 330.94,430.38 330.83,432.63 330.73,434.88 330.62,437.12 330.52,439.37 330.41,441.61 330.31,443.86 330.21,446.10 330.10,448.35 330.00,450.59 329.90,452.84 329.81,455.09 329.71,457.33" fill="#00ced1"/><g clip-path="url(#c7)"><polygon points="313.67,479.56 313.76,477.29 313.85,475.03 313.94,472.76 314.04,470.49 314.13,468.22 314.23,465.96 314.32,463.69 314.42,461.42 314.51,459.15 314.61,456.89 314.71,454.62 314.81,452.35 314.91,450.08 315.01,447.82 315.12,445.55 315.22,443.28 315.32,441.01 315.43,438.75 315.53,436.48 315.64,434.21 315.75,431.95 315.86,429.68 315.96,427.41 316.07,425.14 316.19,422.88 316.30,420.61 316.41,418.34 316.52,416.08 316.64,413.81 316.75,411.54 316.87,409.28 316.98,407.01 317.10,404.74 317.22,402.48 317.34,400.21 317.46,397.94 317.58,395.68 317.70,393.41 317.82,391.14 317.95,388.88 318.07,386.61 318.20,384.35 318.32,382.08 318.45,379.81 318.58,377.55 318.71,375.28 322.66,375.51 322.53,377.77 322.41,380.04 322.28,382.30 322.15,384.56 322.03,386.83 321.90,389.09 321.78,391.36 321.66,393.62 321.54,395.89 321.41,398.15 321.29,400.42 321.18,402.68 321.06,404.95 320.94,407.21 320.82,409.48 320.71,411.74 320.59,414.01 320.48,416.28 320.37,418.54 320.25,420.81 320.14,423.07 320.03,425.34 319.92,427.60 319.81,429.87 319.70,432.13 319.60,434.40 319.49,436.66 319.38,438.93 319.28,441.20 319.18,443.46 319.07,445.73 318.97,447.99 318.87,450.26 318.77,452.53 318.67,454.79 318.57,457.06 318.47,459.32 318.37,461.59 318.28,463.86 318.18,466.12 318.09,468.39 317.99,470.65 317.90,472.92 317.81,475.19 317.72,477.45 317.63,479.72" fill="#40dadc"/><polygon points="325.80,480.04 325.89,477.78 325.98,475.52 326.07,473.25 326.17,470.99 326.26,468.73 326.35,466.46 326.45,464.20 326.55,461.94 326.64,459.68 326.74,457.41 326.84,455.15 326.94,452.89 327.04,450.62 327.14,448.36 327.24,446.10 327.35,443.84 327.45,441.57 327.55,439.31 327.66,437.05 327.77,434.78 327.87,432.52 327.98,430.26 328.09,428.00 328.20,425.73 328.31,423.47 328.42,421.21 328.53,418.95 328.65,416.68 328.76,414.42 328.87,412.16 328.99,409.90 329.11,407.64 329.22,405.37 329.34,403.11 329.46,400.85 329.58,398.59 329.70,396.33 329.82,394.06 329.95,391.80 330.07,389.54 330.19,387.28 330.32,385.02 330.44,382.76 330.57,380.49 330.70,378.23 330.83,375.97 334.78,376.20 334.65,378.46 334.53,380.72 334.40,382.98 334.27,385.24 334.15,387.50 334.02,389.76 333.90,392.02 333.78,394.28 333.66,396.54 333.54,398.80 333.42,401.06 333.30,403.32 333.18,405.58 333.06,407.84 332.95,410.10 332.83,412.36 332.72,414.62 332.60,416.88 332.49,419.14 332.38,421.40 332.27,423.67 332.16,425.93 332.05,428.19 331.94,430.45 331.83,432.71 331.72,434.97 331.62,437.23 331.51,439.49 331.41,441.75 331.30,444.02 331.20,446.28 331.10,448.54 331.00,450.80 330.90,453.06 330.80,455.32 330.70,457.58 330.60,459.85 330.50,462.11 330.41,464.37 330.31,466.63 330.22,468.89 330.12,471.15 330.03,473.42 329.94,475.68 329.85,477.94 329.76,480.20" fill="#009a9d"/></g><clipPath id="c8"><polygon points="314.79,476.58 314.87,474.55 314.96,472.51 315.04,470.47 315.12,468.44 315.21,466.40 315.29,464.36 329.38,464.96 329.30,466.99 329.21,469.02 329.13,471.05 329.04,473.08 328.96,475.12 328.88,477.15"/></clipPath><polygon points="314.79,476.58 314.87,474.55 314.96,472.51 315.04,470.47 315.12,468.44 315.21,466.40 315.29,464.36 329.38,464.96 329.30,466.99 329.21,469.02 329.13,471.05 329.04,473.08 328.96,475.12 328.88,477.15" fill="#f0e68c"/><g clip-path="url(#c8)"><polygon points="312.91,499.43 313.00,497.20 313.08,494.97 313.16,492.74 313.25,490.51 313.33,488.28 313.42,486.05 313.50,483.81 313.59,481.58 313.68,479.35 313.77,477.12 313.86,474.89 313.95,472.66 314.04,470.43 314.13,468.20 314.23,465.97 314.32,463.74 314.41,461.51 314.51,459.28 314.61,457.05 314.70,454.82 314.80,452.59 314.90,450.36 315.00,448.13 315.10,445.90 315.20,443.67 315.30,441.44 319.26,441.62 319.16,443.85 319.06,446.08 318.96,448.30 318.86,450.53 318.76,452.76 318.66,454.99 318.56,457.22 318.47,459.45 318.37,461.68 318.28,463.91 318.18,466.14 318.09,468.36 318.00,470.59 317.91,472.82 317.82,475.05 317.73,477.28 317.64,479.51 317.55,481.74 317.46,483.97 317.37,486.20 317.29,488.43 317.20,490.66 317.12,492.89 317.04,495.12 316.95,497.35 316.87,499.57" fill="#f4eca9"/><polygon points="325.05,499.87 325.13,497.65 325.21,495.42 325.29,493.19 325.38,490.97 325.46,488.74 325.55,486.51 325.63,484.29 325.72,482.06 325.81,479.83 325.90,477.61 325.99,475.38 326.08,473.16 326.17,470.93 326.26,468.70 326.35,466.48 326.45,464.25 326.54,462.03 326.64,459.80 326.73,457.57 326.83,455.35 326.93,453.12 327.03,450.90 327.13,448.67 327.23,446.45 327.33,444.22 327.43,441.99 331.39,442.18 331.28,444.40 331.18,446.62 331.08,448.85 330.98,451.07 330.89,453.30 330.79,455.52 330.69,457.75 330.59,459.97 330.50,462.20 330.40,464.42 330.31,466.64 330.22,468.87 330.13,471.09 330.03,473.32 329.94,475.54 329.86,477.77 329.77,479.99 329.68,482.22 329.59,484.44 329.50,486.67 329.42,488.89 329.33,491.12 329.25,493.34 329.17,495.57 329.09,497.79 329.00,500.02" fill="#b4ac69"/></g><clipPath id="c9"><polygon points="313.57,509.17 313.65,506.89 313.73,504.61 313.81,502.32 313.89,500.04 313.98,497.76 314.06,495.48 314.15,493.20 314.23,490.91 314.32,488.63 314.41,486.35 314.49,484.07 314.58,481.79 314.67,479.50 314.76,477.22 328.85,477.79 328.76,480.06 328.67,482.34 328.58,484.62 328.50,486.89 328.41,489.17 328.32,491.45 328.24,493.72 328.15,496.00 328.07,498.28 327.98,500.55 327.90,502.83 327.82,505.11 327.74,507.38 327.66,509.66"/></clipPath><polygon points="313.57,509.17 313.65,506.89 313.73,504.61 313.81,502.32 313.89,500.04 313.98,497.76 314.06,495.48 314.15,493.20 314.23,490.91 314.32,488.63 314.41,486.35 314.49,484.07 314.58,481.79 314.67,479.50 314.76,477.22 328.85,477.79 328.76,480.06 328.67,482.34 328.58,484.62 328.50,486.89 328.41,489.17 328.32,491.45 328.24,493.72 328.15,496.00 328.07,498.28 327.98,500.55 327.90,502.83 327.82,505.11 327.74,507.38 327.66,509.66" fill="#6a5acd"/><g clip-path="url(#c9)"><polygon points="311.82,532.03 311.89,529.74 311.96,527.46 312.03,525.17 312.11,522.88 312.18,520.60 312.26,518.31 312.33,516.02 312.41,513.74 312.49,511.45 312.57,509.16 312.65,506.88 312.73,504.59 312.81,502.30 312.89,500.02 312.98,497.73 313.06,495.44 313.15,493.16 313.23,490.87 313.32,488.59 313.41,486.30 313.50,484.01 313.59,481.73 313.68,479.44 313.77,477.16 313.86,474.87 313.95,472.58 314.05,470.30 314.14,468.01 314.24,465.73 314.33,463.44 314.43,461.15 314.53,458.87 314.63,456.58 314.73,454.30 318.68,454.47 318.58,456.75 318.48,459.04 318.39,461.32 318.29,463.61 318.19,465.89 318.10,468.18 318.00,470.46 317.91,472.74 317.82,475.03 317.72,477.31 317.63,479.60 317.54,481.88 317.45,484.17 317.37,486.45 317.28,488.74 317.19,491.02 317.10,493.31 317.02,495.59 316.94,497.88 316.85,500.16 316.77,502.45 316.69,504.73 316.61,507.02 316.53,509.30 316.45,511.59 316.37,513.87 316.29,516.16 316.22,518.44 316.14,520.73 316.07,523.01 315.99,525.30 315.92,527.58 315.85,529.87 315.78,532.15" fill="#8f83da"/><polygon points="323.95,532.41 324.02,530.12 324.09,527.84 324.17,525.56 324.24,523.28 324.31,521.00 324.39,518.71 324.47,516.43 324.54,514.15 324.62,511.87 324.70,509.59 324.78,507.30 324.86,505.02 324.94,502.74 325.02,500.46 325.11,498.18 325.19,495.89 325.28,493.61 325.36,491.33 325.45,489.05 325.54,486.77 325.63,484.49 325.71,482.20 325.80,479.92 325.90,477.64 325.99,475.36 326.08,473.08 326.17,470.80 326.27,468.52 326.36,466.23 326.46,463.95 326.56,461.67 326.65,459.39 326.75,457.11 326.85,454.83 330.81,455.00 330.71,457.28 330.61,459.56 330.51,461.84 330.42,464.12 330.32,466.40 330.23,468.68 330.13,470.96 330.04,473.24 329.95,475.52 329.85,477.80 329.76,480.08 329.67,482.36 329.58,484.64 329.50,486.92 329.41,489.20 329.32,491.48 329.24,493.76 329.15,496.04 329.07,498.32 328.98,500.60 328.90,502.88 328.82,505.16 328.74,507.44 328.66,509.72 328.58,512.00 328.50,514.28 328.42,516.56 328.35,518.84 328.27,521.13 328.20,523.41 328.12,525.69 328.05,527.97 327.98,530.25 327.91,532.53" fill="#50449a"/></g><clipPath id="c10"><polygon points="310.70,621.40 310.74,619.14 310.78,616.89 310.82,614.63 310.86,612.37 310.90,610.12 310.94,607.86 310.98,605.61 311.02,603.35 311.07,601.10 311.11,598.84 311.16,596.58 311.20,594.33 311.25,592.07 311.30,589.82 311.35,587.56 311.40,585.30 311.45,583.05 311.50,580.79 311.55,578.54 311.61,576.28 311.66,574.03 311.71,571.77 311.77,569.52 311.83,567.26 311.88,565.00 311.94,562.75 312.00,560.49 326.10,560.86 326.04,563.11 325.98,565.36 325.92,567.61 325.87,569.87 325.81,572.12 325.76,574.37 325.70,576.62 325.65,578.87 325.60,581.12 325.55,583.37 325.50,585.62 325.45,587.87 325.40,590.12 325.35,592.37 325.30,594.62 325.26,596.87 325.21,599.12 325.17,601.37 325.12,603.62 325.08,605.87 325.04,608.12 325.00,610.37 324.95,612.62 324.92,614.88 324.88,617.13 324.84,619.38 324.80,621.63"/></clipPath><polygon points="310.70,621.40 310.74,619.14 310.78,616.89 310.82,614.63 310.86,612.37 310.90,610.12 310.94,607.86 310.98,605.61 311.02,603.35 311.07,601.10 311.11,598.84 311.16,596.58 311.20,594.33 311.25,592.07 311.30,589.82 311.35,587.56 311.40,585.30 311.45,583.05 311.50,580.79 311.55,578.54 311.61,576.28 311.66,574.03 311.71,571.77 311.77,569.52 311.83,567.26 311.88,565.00 311.94,562.75 312.00,560.49 326.10,560.86 326.04,563.11 325.98,565.36 325.92,567.61 325.87,569.87 325.81,572.12 325.76,574.37 325.70,576.62 325.65,578.87 325.60,581.12 325.55,583.37 325.50,585.62 325.45,587.87 325.40,590.12 325.35,592.37 325.30,594.62 325.26,596.87 325.21,599.12 325.17,601.37 325.12,603.62 325.08,605.87 325.04,608.12 325.00,610.37 324.95,612.62 324.92,614.88 324.88,617.13 324.84,619.38 324.80,621.63" fill="#00ffff"/><g clip-path="url(#c10)"><polygon points="309.37,644.29 309.40,642.01 309.43,639.74 309.46,637.47 309.49,635.20 309.53,632.93 309.56,630.66 309.59,628.39 309.63,626.12 309.66,623.85 309.70,621.58 309.74,619.31 309.78,617.04 309.82,614.76 309.85,612.49 309.90,610.22 309.94,607.95 309.98,605.68 310.02,603.41 310.07,601.14 310.11,598.87 310.16,596.60 310.20,594.33 310.25,592.06 310.30,589.79 310.35,587.52 310.40,585.25 310.45,582.98 310.50,580.71 310.55,578.43 310.61,576.16 310.66,573.89 310.72,571.62 310.77,569.35 310.83,567.08 310.89,564.81 310.95,562.54 311.01,560.27 311.07,558.00 311.13,555.73 311.19,553.46 311.25,551.19 311.32,548.92 311.38,546.65 311.45,544.38 311.51,542.11 311.58,539.84 311.65,537.57 315.61,537.69 315.54,539.96 315.47,542.23 315.41,544.50 315.34,546.76 315.28,549.03 315.21,551.30 315.15,553.57 315.09,555.84 315.03,558.11 314.97,560.38 314.91,562.65 314.85,564.91 314.79,567.18 314.73,569.45 314.68,571.72 314.62,573.99 314.57,576.26 314.51,578.53 314.46,580.80 314.41,583.07 314.36,585.33 314.31,587.60 314.26,589.87 314.21,592.14 314.16,594.41 314.12,596.68 314.07,598.95 314.03,601.22 313.98,603.49 313.94,605.76 313.90,608.03 313.86,610.29 313.82,612.56 313.78,614.83 313.74,617.10 313.70,619.37 313.66,621.64 313.62,623.91 313.59,626.18 313.55,628.45 313.52,630.72 313.49,632.99 313.46,635.26 313.42,637.53 313.39,639.80 313.36,642.07 313.33,644.33" fill="#40ffff"/><polygon points="321.51,644.44 321.54,642.17 321.57,639.90 321.60,637.64 321.63,635.37 321.66,633.11 321.70,630.84 321.73,628.57 321.77,626.31 321.80,624.04 321.84,621.77 321.88,619.51 321.91,617.24 321.95,614.98 321.99,612.71 322.03,610.44 322.07,608.18 322.12,605.91 322.16,603.64 322.20,601.38 322.25,599.11 322.29,596.85 322.34,594.58 322.39,592.31 322.44,590.05 322.49,587.78 322.54,585.52 322.59,583.25 322.64,580.98 322.69,578.72 322.74,576.45 322.80,574.19 322.85,571.92 322.91,569.65 322.97,567.39 323.02,565.12 323.08,562.86 323.14,560.59 323.20,558.33 323.26,556.06 323.32,553.79 323.39,551.53 323.45,549.26 323.51,547.00 323.58,544.73 323.65,542.47 323.71,540.20 323.78,537.94 327.74,538.05 327.67,540.32 327.61,542.58 327.54,544.85 327.47,547.11 327.41,549.37 327.35,551.64 327.28,553.90 327.22,556.17 327.16,558.43 327.10,560.70 327.04,562.96 326.98,565.22 326.93,567.49 326.87,569.75 326.81,572.02 326.76,574.28 326.70,576.55 326.65,578.81 326.60,581.08 326.55,583.34 326.50,585.60 326.45,587.87 326.40,590.13 326.35,592.40 326.30,594.66 326.25,596.93 326.21,599.19 326.16,601.46 326.12,603.72 326.08,605.99 326.03,608.25 325.99,610.51 325.95,612.78 325.91,615.04 325.87,617.31 325.84,619.57 325.80,621.84 325.76,624.10 325.73,626.37 325.69,628.63 325.66,630.90 325.63,633.16 325.59,635.43 325.56,637.69 325.53,639.96 325.50,642.22 325.47,644.49" fill="#00bfbf"/></g><clipPath id="c11"><polygon points="337.10,-20.22 336.82,-17.94 336.54,-15.66 336.27,-13.38 335.99,-11.10 335.72,-8.82 335.44,-6.54 335.17,-4.26 334.89,-1.98 334.62,0.30 334.35,2.58 334.08,4.86 333.81,7.14 333.54,9.42 333.28,11.70 333.01,13.98 332.74,16.26 332.48,18.54 332.21,20.82 331.95,23.11 331.69,25.39 331.43,27.67 331.16,29.95 330.90,32.23 330.65,34.51 330.39,36.79 330.13,39.08 329.87,41.36 329.62,43.64 329.36,45.92 329.11,48.20 328.86,50.49 328.60,52.77 328.35,55.05 328.10,57.33 327.85,59.62 327.60,61.90 327.36,64.18 327.11,66.46 326.86,68.75 326.62,71.03 326.37,73.31 326.13,75.60 325.89,77.88 325.64,80.16 325.40,82.45 325.16,84.73 324.92,87.01 324.68,89.30 324.45,91.58 324.21,93.87 323.97,96.15 323.74,98.43 323.51,100.72 323.27,103.00 323.04,105.29 322.81,107.57 322.58,109.86 322.35,112.14 322.12,114.43 321.89,116.71 321.66,118.99 321.44,121.28 321.21,123.57 320.99,125.85 320.76,128.14 320.54,130.42 320.32,132.71 320.10,134.99 319.88,137.28 319.66,139.56 319.44,141.85 319.22,144.13 319.00,146.42 325.59,151.66 333.04,147.75 333.26,145.47 333.47,143.19 333.69,140.91 333.91,138.63 334.13,136.35 334.35,134.07 334.57,131.79 334.80,129.51 335.02,127.23 335.24,124.95 335.47,122.67 335.69,120.39 335.92,118.11 336.15,115.83 336.38,113.55 336.61,111.27 336.84,108.99 337.07,106.71 337.30,104.43 337.53,102.15 337.77,99.87 338.00,97.60 338.24,95.32 338.47,93.04 338.71,90.76 338.95,88.48 339.19,86.20 339.43,83.92 339.67,81.65 339.91,79.37 340.15,77.09 340.39,74.81 340.64,72.53 340.88,70.26 341.13,67.98 341.37,65.70 341.62,63.42 341.87,61.15 342.12,58.87 342.37,56.59 342.62,54.31 342.87,52.04 343.12,49.76 343.38,47.48 343.63,45.21 343.89,42.93 344.14,40.65 344.40,38.38 344.66,36.10 344.91,33.82 345.17,31.55 345.43,29.27 345.69,27.00 345.96,24.72 346.22,22.44 346.48,20.17 346.75,17.89 347.01,15.62 347.28,13.34 347.55,11.07 347.81,8.79 348.08,6.52 348.35,4.24 348.62,1.97 348.89,-0.31 349.17,-2.58 349.44,-4.86 349.71,-7.13 349.99,-9.41 350.26,-11.68 350.54,-13.95 350.82,-16.23 351.10,-18.50"/></clipPath><polygon points="337.10,-20.22 336.82,-17.94 336.54,-15.66 336.27,-13.38 335.99,-11.10 335.72,-8.82 335.44,-6.54 335.17,-4.26 334.89,-1.98 334.62,0.30 334.35,2.58 334.08,4.86 333.81,7.14 333.54,9.42 333.28,11.70 333.01,13.98 332.74,16.26 332.48,18.54 332.21,20.82 331.95,23.11 331.69,25.39 331.43,27.67 331.16,29.95 330.90,32.23 330.65,34.51 330.39,36.79 330.13,39.08 329.87,41.36 329.62,43.64 329.36,45.92 329.11,48.20 328.86,50.49 328.60,52.77 328.35,55.05 328.10,57.33 327.85,59.62 327.60,61.90 327.36,64.18 327.11,66.46 326.86,68.75 326.62,71.03 326.37,73.31 326.13,75.60 325.89,77.88 325.64,80.16 325.40,82.45 325.16,84.73 324.92,87.01 324.68,89.30 324.45,91.58 324.21,93.87 323.97,96.15 323.74,98.43 323.51,100.72 323.27,103.00 323.04,105.29 322.81,107.57 322.58,109.86 322.35,112.14 322.12,114.43 321.89,116.71 321.66,118.99 321.44,121.28 321.21,123.57 320.99,125.85 320.76,128.14 320.54,130.42 320.32,132.71 320.10,134.99 319.88,137.28 319.66,139.56 319.44,141.85 319.22,144.13 319.00,146.42 325.59,151.66 333.04,147.75 333.26,145.47 333.47,143.19 333.69,140.91 333.91,138.63 334.13,136.35 334.35,134.07 334.57,131.79 334.80,129.51 335.02,127.23 335.24,124.95 335.47,122.67 335.69,120.39 335.92,118.11 336.15,115.83 336.38,113.55 336.61,111.27 336.84,108.99 337.07,106.71 337.30,104.43 337.53,102.15 337.77,99.87 338.00,97.60 338.24,95.32 338.47,93.04 338.71,90.76 338.95,88.48 339.19,86.20 339.43,83.92 339.67,81.65 339.91,79.37 340.15,77.09 340.39,74.81 340.64,72.53 340.88,70.26 341.13,67.98 341.37,65.70 341.62,63.42 341.87,61.15 342.12,58.87 342.37,56.59 342.62,54.31 342.87,52.04 343.12,49.76 343.38,47.48 343.63,45.21 343.89,42.93 344.14,40.65 344.40,38.38 344.66,36.10 344.91,33.82 345.17,31.55 345.43,29.27 345.69,27.00 345.96,24.72 346.22,22.44 346.48,20.17 346.75,17.89 347.01,15.62 347.28,13.34 347.55,11.07 347.81,8.79 348.08,6.52 348.35,4.24 348.62,1.97 348.89,-0.31 349.17,-2.58 349.44,-4.86 349.71,-7.13 349.99,-9.41 350.26,-11.68 350.54,-13.95 350.82,-16.23 351.10,-18.50" fill="#0000ff"/><g clip-path="url(#c11)"><polygon points="315.47,173.79 315.68,171.50 315.88,169.21 316.09,166.93 316.30,164.64 316.51,162.35 316.72,160.06 316.93,157.78 317.15,155.49 317.36,153.20 317.58,150.92 317.79,148.63 318.01,146.34 318.22,144.06 318.44,141.77 318.66,139.48 318.88,137.20 319.10,134.91 319.32,132.63 319.54,130.34 319.77,128.05 319.99,125.77 320.21,123.48 320.44,121.20 320.67,118.91 320.89,116.62 321.12,114.34 321.35,112.05 321.58,109.77 321.81,107.48 322.04,105.20 322.28,102.91 322.51,100.63 322.74,98.34 322.98,96.06 323.21,93.77 323.45,91.49 323.69,89.20 323.93,86.92 324.17,84.63 324.41,82.35 324.65,80.07 324.89,77.78 325.13,75.50 325.38,73.21 325.62,70.93 325.87,68.65 326.11,66.36 326.36,64.08 326.61,61.80 326.86,59.51 327.11,57.23 327.36,54.95 327.61,52.66 327.86,50.38 328.11,48.10 328.37,45.81 328.62,43.53 328.88,41.25 329.14,38.97 329.39,36.68 329.65,34.40 329.91,32.12 330.17,29.84 330.43,27.56 330.69,25.27 330.96,22.99 331.22,20.71 331.48,18.43 331.75,16.15 332.02,13.87 332.28,11.58 332.55,9.30 332.82,7.02 333.09,4.74 333.36,2.46 333.63,0.18 333.90,-2.10 334.17,-4.38 334.45,-6.66 334.72,-8.94 335.00,-11.22 335.28,-13.50 335.55,-15.78 335.83,-18.06 336.11,-20.34 336.39,-22.62 336.67,-24.90 336.95,-27.18 337.23,-29.46 337.52,-31.74 337.80,-34.02 338.09,-36.30 338.37,-38.58 338.66,-40.86 338.95,-43.14 342.88,-42.64 342.59,-40.36 342.30,-38.08 342.02,-35.81 341.73,-33.53 341.45,-31.25 341.17,-28.97 340.88,-26.70 340.60,-24.42 340.32,-22.14 340.04,-19.86 339.76,-17.58 339.48,-15.30 339.21,-13.03 338.93,-10.75 338.66,-8.47 338.38,-6.19 338.11,-3.91 337.83,-1.63 337.56,0.65 337.29,2.93 337.02,5.21 336.75,7.49 336.48,9.77 336.22,12.05 335.95,14.33 335.68,16.61 335.42,18.89 335.15,21.17 334.89,23.45 334.63,25.73 334.37,28.01 334.11,30.29 333.85,32.57 333.59,34.85 333.33,37.13 333.07,39.41 332.82,41.69 332.56,43.97 332.30,46.25 332.05,48.53 331.80,50.82 331.55,53.10 331.29,55.38 331.04,57.66 330.79,59.94 330.55,62.22 330.30,64.51 330.05,66.79 329.81,69.07 329.56,71.35 329.32,73.64 329.07,75.92 328.83,78.20 328.59,80.48 328.35,82.77 328.11,85.05 327.87,87.33 327.63,89.61 327.39,91.90 327.15,94.18 326.92,96.46 326.68,98.75 326.45,101.03 326.22,103.31 325.98,105.60 325.75,107.88 325.52,110.16 325.29,112.45 325.06,114.73 324.84,117.02 324.61,119.30 324.38,121.59 324.16,123.87 323.93,126.15 323.71,128.44 323.49,130.72 323.26,133.01 323.04,135.29 322.82,137.58 322.60,139.86 322.38,142.15 322.17,144.43 321.95,146.72 321.73,149.00 321.52,151.29 321.30,153.57 321.09,155.86 320.88,158.14 320.67,160.43 320.46,162.72 320.25,165.00 320.04,167.29 319.83,169.57 319.62,171.86 319.42,174.14" fill="#4040ff"/><polygon points="327.56,174.88 327.77,172.60 327.97,170.31 328.18,168.03 328.39,165.75 328.60,163.46 328.81,161.18 329.02,158.90 329.23,156.62 329.45,154.33 329.66,152.05 329.88,149.77 330.09,147.49 330.31,145.21 330.53,142.92 330.74,140.64 330.96,138.36 331.18,136.08 331.40,133.80 331.63,131.52 331.85,129.23 332.07,126.95 332.30,124.67 332.52,122.39 332.75,120.11 332.97,117.83 333.20,115.55 333.43,113.27 333.66,110.99 333.89,108.70 334.12,106.42 334.35,104.14 334.59,101.86 334.82,99.58 335.05,97.30 335.29,95.02 335.53,92.74 335.76,90.46 336.00,88.18 336.24,85.90 336.48,83.62 336.72,81.34 336.96,79.06 337.20,76.78 337.45,74.50 337.69,72.23 337.94,69.95 338.18,67.67 338.43,65.39 338.68,63.11 338.92,60.83 339.17,58.55 339.42,56.27 339.67,53.99 339.93,51.72 340.18,49.44 340.43,47.16 340.69,44.88 340.94,42.60 341.20,40.33 341.46,38.05 341.71,35.77 341.97,33.49 342.23,31.21 342.49,28.94 342.75,26.66 343.02,24.38 343.28,22.11 343.54,19.83 343.81,17.55 344.07,15.27 344.34,13.00 344.61,10.72 344.87,8.44 345.14,6.17 345.41,3.89 345.68,1.62 345.96,-0.66 346.23,-2.94 346.50,-5.21 346.77,-7.49 347.05,-9.76 347.33,-12.04 347.60,-14.32 347.88,-16.59 348.16,-18.87 348.44,-21.14 348.72,-23.42 349.00,-25.69 349.28,-27.97 349.56,-30.24 349.85,-32.52 350.13,-34.79 350.42,-37.07 350.70,-39.34 350.99,-41.61 354.92,-41.12 354.63,-38.84 354.35,-36.57 354.06,-34.30 353.78,-32.03 353.49,-29.75 353.21,-27.48 352.93,-25.21 352.65,-22.93 352.37,-20.66 352.09,-18.38 351.81,-16.11 351.53,-13.84 351.26,-11.56 350.98,-9.29 350.71,-7.01 350.43,-4.74 350.16,-2.47 349.89,-0.19 349.62,2.08 349.35,4.36 349.08,6.63 348.81,8.91 348.54,11.18 348.27,13.46 348.01,15.73 347.74,18.01 347.48,20.28 347.21,22.56 346.95,24.84 346.69,27.11 346.43,29.39 346.17,31.66 345.91,33.94 345.65,36.22 345.39,38.49 345.13,40.77 344.88,43.04 344.62,45.32 344.37,47.60 344.12,49.87 343.86,52.15 343.61,54.43 343.36,56.71 343.11,58.98 342.86,61.26 342.61,63.54 342.37,65.81 342.12,68.09 341.87,70.37 341.63,72.65 341.39,74.93 341.14,77.20 340.90,79.48 340.66,81.76 340.42,84.04 340.18,86.32 339.94,88.59 339.70,90.87 339.47,93.15 339.23,95.43 338.99,97.71 338.76,99.99 338.53,102.27 338.29,104.54 338.06,106.82 337.83,109.10 337.60,111.38 337.37,113.66 337.14,115.94 336.91,118.22 336.69,120.50 336.46,122.78 336.24,125.06 336.01,127.34 335.79,129.62 335.57,131.90 335.35,134.18 335.13,136.46 334.91,138.74 334.69,141.02 334.47,143.30 334.25,145.58 334.03,147.86 333.82,150.14 333.60,152.42 333.39,154.70 333.18,156.98 332.97,159.27 332.75,161.55 332.54,163.83 332.33,166.11 332.13,168.39 331.92,170.67 331.71,172.95 331.51,175.23" fill="#0000bf"/></g><clipPath id="c12"><polygon points="318.08,156.22 317.87,158.47 317.67,160.73 317.46,162.98 317.25,165.24 317.05,167.49 316.84,169.75 316.64,172.00 316.43,174.26 316.23,176.51 316.03,178.77 315.83,181.02 315.63,183.28 315.43,185.53 315.23,187.79 315.03,190.04 314.83,192.30 314.64,194.55 321.27,199.74 328.69,195.77 328.88,193.52 329.08,191.27 329.27,189.02 329.47,186.77 329.67,184.52 329.87,182.27 330.07,180.02 330.27,177.77 330.48,175.52 330.68,173.27 330.88,171.02 331.09,168.77 331.29,166.52 331.50,164.27 331.71,162.02 331.91,159.78 332.12,157.53"/></clipPath><polygon points="318.08,156.22 317.87,158.47 317.67,160.73 317.46,162.98 317.25,165.24 317.05,167.49 316.84,169.75 316.64,172.00 316.43,174.26 316.23,176.51 316.03,178.77 315.83,181.02 315.63,183.28 315.43,185.53 315.23,187.79 315.03,190.04 314.83,192.30 314.64,194.55 321.27,199.74 328.69,195.77 328.88,193.52 329.08,191.27 329.27,189.02 329.47,186.77 329.67,184.52 329.87,182.27 330.07,180.02 330.27,177.77 330.48,175.52 330.68,173.27 330.88,171.02 331.09,168.77 331.29,166.52 331.50,164.27 331.71,162.02 331.91,159.78 332.12,157.53" fill="#0000ff"/><g clip-path="url(#c12)"><polygon points="311.32,221.95 311.51,219.67 311.70,217.40 311.89,215.12 312.08,212.85 312.27,210.57 312.46,208.30 312.65,206.02 312.85,203.74 313.04,201.47 313.23,199.20 313.43,196.92 313.63,194.65 313.82,192.37 314.02,190.10 314.22,187.82 314.42,185.55 314.62,183.27 314.82,181.00 315.03,178.72 315.23,176.45 315.44,174.18 315.64,171.90 315.85,169.63 316.05,167.35 316.26,165.08 316.47,162.81 316.68,160.53 316.89,158.26 317.10,155.99 317.31,153.71 317.53,151.44 317.74,149.17 317.95,146.89 318.17,144.62 318.39,142.35 318.60,140.07 318.82,137.80 319.04,135.53 319.26,133.26 323.20,133.64 322.98,135.91 322.76,138.18 322.55,140.45 322.33,142.72 322.11,145.00 321.90,147.27 321.68,149.54 321.47,151.81 321.26,154.08 321.05,156.35 320.83,158.63 320.62,160.90 320.41,163.17 320.21,165.44 320.00,167.71 319.79,169.99 319.59,172.26 319.38,174.53 319.18,176.80 318.97,179.08 318.77,181.35 318.57,183.62 318.37,185.90 318.17,188.17 317.97,190.44 317.77,192.71 317.57,194.99 317.38,197.26 317.18,199.53 316.99,201.81 316.79,204.08 316.60,206.35 316.41,208.63 316.21,210.90 316.02,213.18 315.83,215.45 315.65,217.72 315.46,220.00 315.27,222.27" fill="#4040ff"/><polygon points="323.42,222.94 323.61,220.67 323.80,218.40 323.98,216.13 324.17,213.86 324.36,211.59 324.56,209.32 324.75,207.05 324.94,204.77 325.13,202.50 325.33,200.23 325.52,197.96 325.72,195.69 325.92,193.42 326.12,191.15 326.31,188.88 326.51,186.61 326.71,184.34 326.92,182.07 327.12,179.80 327.32,177.53 327.53,175.27 327.73,173.00 327.94,170.73 328.14,168.46 328.35,166.19 328.56,163.92 328.77,161.65 328.98,159.38 329.19,157.11 329.40,154.84 329.61,152.57 329.83,150.31 330.04,148.04 330.25,145.77 330.47,143.50 330.69,141.23 330.90,138.96 331.12,136.70 331.34,134.43 335.28,134.81 335.07,137.08 334.85,139.34 334.63,141.61 334.41,143.88 334.20,146.14 333.98,148.41 333.77,150.68 333.56,152.94 333.34,155.21 333.13,157.48 332.92,159.75 332.71,162.01 332.50,164.28 332.29,166.55 332.09,168.82 331.88,171.08 331.68,173.35 331.47,175.62 331.27,177.89 331.06,180.16 330.86,182.42 330.66,184.69 330.46,186.96 330.26,189.23 330.06,191.50 329.86,193.77 329.67,196.04 329.47,198.30 329.28,200.57 329.08,202.84 328.89,205.11 328.69,207.38 328.50,209.65 328.31,211.92 328.12,214.19 327.93,216.46 327.74,218.73 327.56,221.00 327.37,223.26" fill="#0000bf"/></g><clipPath id="c13"><polygon points="313.81,204.22 313.61,206.50 313.42,208.77 313.23,211.05 313.04,213.33 312.85,215.61 312.66,217.88 312.47,220.16 312.29,222.44 312.10,224.71 311.91,226.99 311.73,229.27 311.55,231.55 311.36,233.83 311.18,236.10 311.00,238.38 310.82,240.66 310.64,242.94 310.46,245.21 310.28,247.49 310.11,249.77 309.93,252.05 309.75,254.33 309.58,256.61 309.41,258.88 316.09,264.01 323.46,259.95 323.64,257.68 323.81,255.41 323.99,253.13 324.16,250.86 324.34,248.59 324.52,246.31 324.70,244.04 324.87,241.77 325.05,239.50 325.24,237.22 325.42,234.95 325.60,232.68 325.78,230.41 325.97,228.13 326.15,225.86 326.34,223.59 326.53,221.32 326.71,219.05 326.90,216.77 327.09,214.50 327.28,212.23 327.47,209.96 327.66,207.69 327.86,205.42"/></clipPath><polygon points="313.81,204.22 313.61,206.50 313.42,208.77 313.23,211.05 313.04,213.33 312.85,215.61 312.66,217.88 312.47,220.16 312.29,222.44 312.10,224.71 311.91,226.99 311.73,229.27 311.55,231.55 311.36,233.83 311.18,236.10 311.00,238.38 310.82,240.66 310.64,242.94 310.46,245.21 310.28,247.49 310.11,249.77 309.93,252.05 309.75,254.33 309.58,256.61 309.41,258.88 316.09,264.01 323.46,259.95 323.64,257.68 323.81,255.41 323.99,253.13 324.16,250.86 324.34,248.59 324.52,246.31 324.70,244.04 324.87,241.77 325.05,239.50 325.24,237.22 325.42,234.95 325.60,232.68 325.78,230.41 325.97,228.13 326.15,225.86 326.34,223.59 326.53,221.32 326.71,219.05 326.90,216.77 327.09,214.50 327.28,212.23 327.47,209.96 327.66,207.69 327.86,205.42" fill="#0000ff"/><g clip-path="url(#c13)"><polygon points="306.38,286.31 306.54,284.03 306.71,281.74 306.87,279.46 307.04,277.17 307.21,274.89 307.38,272.60 307.54,270.32 307.71,268.03 307.88,265.75 308.06,263.46 308.23,261.18 308.40,258.89 308.58,256.61 308.75,254.32 308.93,252.04 309.10,249.75 309.28,247.47 309.46,245.18 309.64,242.90 309.82,240.62 310.00,238.33 310.18,236.05 310.36,233.76 310.55,231.48 310.73,229.19 310.92,226.91 311.10,224.63 311.29,222.34 311.48,220.06 311.67,217.78 311.86,215.49 312.05,213.21 312.24,210.93 312.43,208.64 312.62,206.36 312.82,204.08 313.01,201.79 313.21,199.51 313.40,197.23 313.60,194.94 313.80,192.66 314.00,190.38 314.20,188.10 314.40,185.81 314.60,183.53 314.80,181.25 318.75,181.60 318.55,183.88 318.34,186.16 318.14,188.44 317.94,190.72 317.75,193.00 317.55,195.29 317.35,197.57 317.15,199.85 316.96,202.13 316.76,204.41 316.57,206.69 316.38,208.98 316.19,211.26 315.99,213.54 315.80,215.82 315.61,218.10 315.43,220.39 315.24,222.67 315.05,224.95 314.87,227.23 314.68,229.51 314.50,231.80 314.31,234.08 314.13,236.36 313.95,238.64 313.77,240.93 313.59,243.21 313.41,245.49 313.23,247.78 313.05,250.06 312.88,252.34 312.70,254.63 312.53,256.91 312.35,259.19 312.18,261.47 312.01,263.76 311.83,266.04 311.66,268.33 311.49,270.61 311.33,272.89 311.16,275.18 310.99,277.46 310.82,279.74 310.66,282.03 310.49,284.31 310.33,286.60" fill="#4040ff"/><polygon points="318.49,287.18 318.65,284.90 318.82,282.62 318.98,280.34 319.15,278.06 319.31,275.77 319.48,273.49 319.65,271.21 319.82,268.93 319.99,266.65 320.16,264.37 320.33,262.09 320.51,259.81 320.68,257.53 320.85,255.25 321.03,252.97 321.21,250.69 321.38,248.41 321.56,246.13 321.74,243.85 321.92,241.57 322.10,239.29 322.28,237.01 322.46,234.73 322.65,232.45 322.83,230.17 323.02,227.89 323.20,225.62 323.39,223.34 323.58,221.06 323.76,218.78 323.95,216.50 324.14,214.22 324.33,211.94 324.53,209.66 324.72,207.38 324.91,205.11 325.11,202.83 325.30,200.55 325.50,198.27 325.69,195.99 325.89,193.71 326.09,191.44 326.29,189.16 326.49,186.88 326.69,184.60 326.89,182.32 330.84,182.67 330.64,184.95 330.44,187.23 330.24,189.50 330.04,191.78 329.84,194.06 329.64,196.33 329.44,198.61 329.25,200.89 329.05,203.16 328.86,205.44 328.67,207.72 328.47,210.00 328.28,212.27 328.09,214.55 327.90,216.83 327.71,219.10 327.52,221.38 327.34,223.66 327.15,225.94 326.96,228.22 326.78,230.49 326.60,232.77 326.41,235.05 326.23,237.33 326.05,239.61 325.87,241.88 325.69,244.16 325.51,246.44 325.33,248.72 325.16,251.00 324.98,253.28 324.80,255.55 324.63,257.83 324.46,260.11 324.28,262.39 324.11,264.67 323.94,266.95 323.77,269.23 323.60,271.51 323.43,273.78 323.26,276.06 323.10,278.34 322.93,280.62 322.77,282.90 322.60,285.18 322.44,287.46" fill="#0000bf"/></g><clipPath id="c14"><polygon points="308.11,276.21 307.95,278.47 307.78,280.72 307.62,282.98 307.46,285.23 307.30,287.49 307.14,289.74 306.98,292.00 306.82,294.25 306.66,296.51 306.51,298.77 306.35,301.02 306.19,303.28 306.04,305.53 305.89,307.79 305.73,310.04 305.58,312.30 305.43,314.56 305.28,316.81 305.13,319.07 304.98,321.32 304.83,323.58 304.69,325.84 304.54,328.09 304.40,330.35 304.25,332.61 304.11,334.86 303.97,337.12 303.82,339.38 303.68,341.63 303.54,343.89 303.40,346.15 310.16,351.17 317.48,347.01 317.62,344.76 317.76,342.51 317.90,340.26 318.04,338.01 318.18,335.76 318.32,333.50 318.47,331.25 318.61,329.00 318.76,326.75 318.90,324.50 319.05,322.25 319.20,320.00 319.35,317.75 319.50,315.50 319.65,313.25 319.80,310.99 319.95,308.74 320.11,306.49 320.26,304.24 320.42,301.99 320.57,299.74 320.73,297.49 320.89,295.24 321.04,292.99 321.20,290.74 321.36,288.49 321.52,286.24 321.69,283.99 321.85,281.74 322.01,279.49 322.18,277.24"/></clipPath><polygon points="308.11,276.21 307.95,278.47 307.78,280.72 307.62,282.98 307.46,285.23 307.30,287.49 307.14,289.74 306.98,292.00 306.82,294.25 306.66,296.51 306.51,298.77 306.35,301.02 306.19,303.28 306.04,305.53 305.89,307.79 305.73,310.04 305.58,312.30 305.43,314.56 305.28,316.81 305.13,319.07 304.98,321.32 304.83,323.58 304.69,325.84 304.54,328.09 304.40,330.35 304.25,332.61 304.11,334.86 303.97,337.12 303.82,339.38 303.68,341.63 303.54,343.89 303.40,346.15 310.16,351.17 317.48,347.01 317.62,344.76 317.76,342.51 317.90,340.26 318.04,338.01 318.18,335.76 318.32,333.50 318.47,331.25 318.61,329.00 318.76,326.75 318.90,324.50 319.05,322.25 319.20,320.00 319.35,317.75 319.50,315.50 319.65,313.25 319.80,310.99 319.95,308.74 320.11,306.49 320.26,304.24 320.42,301.99 320.57,299.74 320.73,297.49 320.89,295.24 321.04,292.99 321.20,290.74 321.36,288.49 321.52,286.24 321.69,283.99 321.85,281.74 322.01,279.49 322.18,277.24" fill="#0000ff"/><g clip-path="url(#c14)"><polygon points="300.77,373.62 300.90,371.34 301.03,369.07 301.16,366.80 301.30,364.53 301.43,362.25 301.57,359.98 301.70,357.71 301.84,355.43 301.97,353.16 302.11,350.89 302.25,348.62 302.39,346.35 302.53,344.07 302.67,341.80 302.81,339.53 302.95,337.26 303.10,334.98 303.24,332.71 303.39,330.44 303.53,328.17 303.68,325.90 303.83,323.63 303.98,321.35 304.13,319.08 304.28,316.81 304.43,314.54 304.58,312.27 304.73,310.00 304.89,307.72 305.04,305.45 305.20,303.18 305.35,300.91 305.51,298.64 305.67,296.37 305.83,294.10 305.99,291.83 306.15,289.56 306.31,287.29 306.47,285.01 306.64,282.74 306.80,280.47 306.97,278.20 307.13,275.93 307.30,273.66 307.46,271.39 307.63,269.12 307.80,266.85 307.97,264.58 308.14,262.31 308.31,260.04 308.49,257.77 308.66,255.50 308.83,253.23 312.78,253.53 312.61,255.80 312.44,258.07 312.26,260.34 312.09,262.61 311.92,264.88 311.75,267.15 311.58,269.41 311.42,271.68 311.25,273.95 311.08,276.22 310.92,278.49 310.75,280.76 310.59,283.03 310.42,285.30 310.26,287.57 310.10,289.84 309.94,292.11 309.78,294.38 309.62,296.64 309.46,298.91 309.31,301.18 309.15,303.45 308.99,305.72 308.84,307.99 308.69,310.26 308.53,312.53 308.38,314.80 308.23,317.07 308.08,319.34 307.93,321.61 307.78,323.88 307.63,326.15 307.49,328.42 307.34,330.69 307.20,332.96 307.05,335.24 306.91,337.51 306.77,339.78 306.62,342.05 306.48,344.32 306.34,346.59 306.20,348.86 306.06,351.13 305.93,353.40 305.79,355.67 305.65,357.94 305.52,360.21 305.39,362.49 305.25,364.76 305.12,367.03 304.99,369.30 304.86,371.57 304.73,373.84" fill="#4040ff"/><polygon points="312.89,374.31 313.02,372.04 313.15,369.77 313.28,367.50 313.42,365.23 313.55,362.97 313.68,360.70 313.82,358.43 313.95,356.16 314.09,353.89 314.23,351.63 314.37,349.36 314.50,347.09 314.64,344.82 314.79,342.56 314.93,340.29 315.07,338.02 315.21,335.75 315.36,333.49 315.50,331.22 315.65,328.95 315.79,326.68 315.94,324.42 316.09,322.15 316.24,319.88 316.39,317.61 316.54,315.35 316.69,313.08 316.85,310.81 317.00,308.55 317.15,306.28 317.31,304.01 317.47,301.75 317.62,299.48 317.78,297.21 317.94,294.95 318.10,292.68 318.26,290.41 318.42,288.15 318.58,285.88 318.74,283.62 318.91,281.35 319.07,279.08 319.24,276.82 319.40,274.55 319.57,272.29 319.74,270.02 319.91,267.75 320.08,265.49 320.25,263.22 320.42,260.96 320.59,258.69 320.76,256.43 320.94,254.16 324.89,254.47 324.71,256.73 324.54,258.99 324.37,261.26 324.20,263.52 324.03,265.79 323.86,268.05 323.69,270.31 323.52,272.58 323.35,274.84 323.19,277.11 323.02,279.37 322.86,281.64 322.69,283.90 322.53,286.17 322.37,288.43 322.21,290.70 322.05,292.96 321.89,295.22 321.73,297.49 321.57,299.75 321.42,302.02 321.26,304.29 321.11,306.55 320.95,308.82 320.80,311.08 320.65,313.35 320.49,315.61 320.34,317.88 320.19,320.14 320.04,322.41 319.90,324.67 319.75,326.94 319.60,329.21 319.46,331.47 319.31,333.74 319.17,336.00 319.02,338.27 318.88,340.54 318.74,342.80 318.60,345.07 318.46,347.33 318.32,349.60 318.18,351.87 318.04,354.13 317.91,356.40 317.77,358.67 317.64,360.93 317.50,363.20 317.37,365.47 317.24,367.73 317.11,370.00 316.98,372.27 316.85,374.53" fill="#0000bf"/></g><clipPath id="c15"><polygon points="303.10,351.02 302.97,353.28 302.83,355.54 302.70,357.79 302.56,360.05 302.43,362.31 302.30,364.57 302.16,366.83 302.03,369.09 301.90,371.35 301.77,373.60 301.65,375.86 301.52,378.12 301.39,380.38 301.27,382.64 301.14,384.90 307.93,389.88 315.22,385.68 315.34,383.42 315.47,381.17 315.60,378.91 315.72,376.66 315.85,374.41 315.98,372.15 316.11,369.90 316.24,367.65 316.37,365.39 316.50,363.14 316.64,360.89 316.77,358.63 316.91,356.38 317.04,354.13 317.18,351.87"/></clipPath><polygon points="303.10,351.02 302.97,353.28 302.83,355.54 302.70,357.79 302.56,360.05 302.43,362.31 302.30,364.57 302.16,366.83 302.03,369.09 301.90,371.35 301.77,373.60 301.65,375.86 301.52,378.12 301.39,380.38 301.27,382.64 301.14,384.90 307.93,389.88 315.22,385.68 315.34,383.42 315.47,381.17 315.60,378.91 315.72,376.66 315.85,374.41 315.98,372.15 316.11,369.90 316.24,367.65 316.37,365.39 316.50,363.14 316.64,360.89 316.77,358.63 316.91,356.38 317.04,354.13 317.18,351.87" fill="#0000ff"/><g clip-path="url(#c15)"><polygon points="298.69,412.39 298.80,410.10 298.92,407.82 299.04,405.54 299.15,403.26 299.27,400.98 299.39,398.70 299.51,396.42 299.64,394.14 299.76,391.86 299.88,389.58 300.01,387.30 300.13,385.02 300.26,382.74 300.39,380.46 300.51,378.18 300.64,375.90 300.77,373.62 300.90,371.34 301.03,369.06 301.17,366.78 301.30,364.50 301.43,362.22 301.57,359.94 301.70,357.66 301.84,355.38 301.98,353.10 302.12,350.82 302.25,348.54 302.39,346.26 302.53,343.98 302.68,341.70 302.82,339.42 302.96,337.15 303.11,334.87 303.25,332.59 303.40,330.31 303.54,328.03 307.50,328.28 307.35,330.56 307.20,332.84 307.06,335.12 306.91,337.39 306.77,339.67 306.63,341.95 306.49,344.23 306.35,346.51 306.21,348.78 306.07,351.06 305.93,353.34 305.79,355.62 305.66,357.90 305.52,360.17 305.39,362.45 305.25,364.73 305.12,367.01 304.99,369.29 304.86,371.57 304.73,373.84 304.60,376.12 304.47,378.40 304.34,380.68 304.21,382.96 304.09,385.24 303.96,387.52 303.84,389.80 303.71,392.07 303.59,394.35 303.47,396.63 303.35,398.91 303.23,401.19 303.11,403.47 302.99,405.75 302.87,408.03 302.76,410.31 302.64,412.59" fill="#4040ff"/><polygon points="310.81,413.00 310.92,410.72 311.04,408.45 311.16,406.17 311.28,403.89 311.40,401.62 311.52,399.34 311.64,397.07 311.76,394.79 311.88,392.51 312.00,390.24 312.13,387.96 312.25,385.69 312.38,383.41 312.51,381.14 312.63,378.86 312.76,376.59 312.89,374.31 313.02,372.03 313.15,369.76 313.28,367.48 313.42,365.21 313.55,362.93 313.69,360.66 313.82,358.38 313.96,356.11 314.09,353.83 314.23,351.56 314.37,349.28 314.51,347.01 314.65,344.73 314.79,342.46 314.93,340.18 315.08,337.91 315.22,335.63 315.37,333.36 315.51,331.09 315.66,328.81 319.61,329.07 319.46,331.34 319.32,333.61 319.17,335.89 319.03,338.16 318.89,340.43 318.74,342.70 318.60,344.98 318.46,347.25 318.32,349.52 318.19,351.80 318.05,354.07 317.91,356.35 317.77,358.62 317.64,360.89 317.51,363.17 317.37,365.44 317.24,367.71 317.11,369.99 316.98,372.26 316.85,374.54 316.72,376.81 316.59,379.08 316.46,381.36 316.33,383.63 316.21,385.91 316.08,388.18 315.96,390.45 315.84,392.73 315.71,395.00 315.59,397.28 315.47,399.55 315.35,401.83 315.23,404.10 315.11,406.38 315.00,408.65 314.88,410.92 314.76,413.20" fill="#0000bf"/></g><clipPath id="c16"><polygon points="300.47,397.25 300.35,399.50 300.23,401.76 300.12,404.01 300.00,406.26 299.88,408.52 299.77,410.77 299.65,413.02 299.54,415.28 299.43,417.53 299.32,419.78 299.21,422.04 299.10,424.29 298.99,426.54 298.88,428.80 298.77,431.05 298.66,433.31 298.56,435.56 298.45,437.81 298.35,440.07 298.24,442.32 298.14,444.58 298.04,446.83 297.94,449.08 297.84,451.34 304.68,456.24 311.93,451.96 312.03,449.71 312.13,447.46 312.23,445.21 312.33,442.97 312.43,440.72 312.54,438.47 312.64,436.22 312.75,433.97 312.85,431.72 312.96,429.47 313.07,427.23 313.18,424.98 313.29,422.73 313.40,420.48 313.51,418.23 313.62,415.98 313.74,413.74 313.85,411.49 313.97,409.24 314.08,406.99 314.20,404.74 314.32,402.49 314.43,400.25 314.55,398.00"/></clipPath><polygon points="300.47,397.25 300.35,399.50 300.23,401.76 300.12,404.01 300.00,406.26 299.88,408.52 299.77,410.77 299.65,413.02 299.54,415.28 299.43,417.53 299.32,419.78 299.21,422.04 299.10,424.29 298.99,426.54 298.88,428.80 298.77,431.05 298.66,433.31 298.56,435.56 298.45,437.81 298.35,440.07 298.24,442.32 298.14,444.58 298.04,446.83 297.94,449.08 297.84,451.34 304.68,456.24 311.93,451.96 312.03,449.71 312.13,447.46 312.23,445.21 312.33,442.97 312.43,440.72 312.54,438.47 312.64,436.22 312.75,433.97 312.85,431.72 312.96,429.47 313.07,427.23 313.18,424.98 313.29,422.73 313.40,420.48 313.51,418.23 313.62,415.98 313.74,413.74 313.85,411.49 313.97,409.24 314.08,406.99 314.20,404.74 314.32,402.49 314.43,400.25 314.55,398.00" fill="#0000ff"/><g clip-path="url(#c16)"><polygon points="295.68,478.85 295.78,476.57 295.87,474.30 295.96,472.03 296.05,469.75 296.15,467.48 296.24,465.20 296.34,462.93 296.43,460.65 296.53,458.38 296.63,456.10 296.73,453.83 296.83,451.56 296.93,449.28 297.03,447.01 297.13,444.73 297.24,442.46 297.34,440.19 297.45,437.91 297.55,435.64 297.66,433.36 297.77,431.09 297.88,428.82 297.99,426.54 298.10,424.27 298.21,422.00 298.32,419.72 298.43,417.45 298.54,415.17 298.66,412.90 298.77,410.63 298.89,408.35 299.01,406.08 299.13,403.81 299.24,401.53 299.36,399.26 299.48,396.99 299.61,394.71 299.73,392.44 299.85,390.17 299.97,387.90 300.10,385.62 300.23,383.35 300.35,381.08 300.48,378.80 300.61,376.53 300.74,374.26 304.69,374.48 304.56,376.75 304.43,379.03 304.31,381.30 304.18,383.57 304.05,385.84 303.93,388.11 303.81,390.38 303.68,392.65 303.56,394.93 303.44,397.20 303.32,399.47 303.20,401.74 303.08,404.01 302.96,406.29 302.85,408.56 302.73,410.83 302.62,413.10 302.50,415.37 302.39,417.65 302.27,419.92 302.16,422.19 302.05,424.46 301.94,426.73 301.83,429.01 301.72,431.28 301.62,433.55 301.51,435.82 301.40,438.10 301.30,440.37 301.19,442.64 301.09,444.91 300.99,447.19 300.89,449.46 300.79,451.73 300.69,454.00 300.59,456.28 300.49,458.55 300.39,460.82 300.29,463.10 300.20,465.37 300.10,467.64 300.01,469.91 299.92,472.19 299.82,474.46 299.73,476.73 299.64,479.01" fill="#4040ff"/><polygon points="307.81,479.33 307.90,477.06 308.00,474.79 308.09,472.52 308.18,470.25 308.28,467.98 308.37,465.71 308.47,463.44 308.56,461.17 308.66,458.90 308.76,456.63 308.86,454.36 308.96,452.09 309.06,449.82 309.16,447.55 309.26,445.28 309.36,443.01 309.47,440.74 309.57,438.47 309.68,436.21 309.79,433.94 309.89,431.67 310.00,429.40 310.11,427.13 310.22,424.86 310.33,422.59 310.44,420.32 310.56,418.05 310.67,415.78 310.78,413.51 310.90,411.25 311.01,408.98 311.13,406.71 311.25,404.44 311.37,402.17 311.49,399.90 311.61,397.63 311.73,395.36 311.85,393.10 311.97,390.83 312.10,388.56 312.22,386.29 312.35,384.02 312.47,381.75 312.60,379.48 312.73,377.22 312.86,374.95 316.81,375.17 316.68,377.44 316.55,379.71 316.43,381.97 316.30,384.24 316.18,386.51 316.05,388.77 315.93,391.04 315.80,393.31 315.68,395.58 315.56,397.84 315.44,400.11 315.32,402.38 315.20,404.64 315.09,406.91 314.97,409.18 314.85,411.45 314.74,413.71 314.62,415.98 314.51,418.25 314.40,420.52 314.29,422.78 314.18,425.05 314.07,427.32 313.96,429.59 313.85,431.86 313.74,434.12 313.64,436.39 313.53,438.66 313.42,440.93 313.32,443.19 313.22,445.46 313.12,447.73 313.01,450.00 312.91,452.27 312.81,454.54 312.71,456.80 312.62,459.07 312.52,461.34 312.42,463.61 312.33,465.88 312.23,468.14 312.14,470.41 312.05,472.68 311.95,474.95 311.86,477.22 311.77,479.49" fill="#0000bf"/></g><clipPath id="c17"><polygon points="297.31,463.60 297.23,465.52 297.15,467.43 297.07,469.34 296.99,471.26 303.85,476.14 311.08,471.83 311.16,469.93 311.24,468.02 311.32,466.11 311.40,464.20"/></clipPath><polygon points="297.31,463.60 297.23,465.52 297.15,467.43 297.07,469.34 296.99,471.26 303.85,476.14 311.08,471.83 311.16,469.93 311.24,468.02 311.32,466.11 311.40,464.20" fill="#0000ff"/><g clip-path="url(#c17)"><polygon points="294.93,498.78 295.01,496.54 295.09,494.30 295.17,492.06 295.26,489.83 295.34,487.59 295.43,485.35 295.52,483.11 295.60,480.88 295.69,478.64 295.78,476.40 295.87,474.16 295.96,471.93 296.06,469.69 296.15,467.45 296.24,465.22 296.34,462.98 296.43,460.74 296.53,458.50 296.62,456.27 296.72,454.03 296.82,451.79 296.92,449.56 297.02,447.32 297.12,445.08 297.22,442.85 297.32,440.61 301.28,440.79 301.18,443.03 301.08,445.26 300.97,447.50 300.87,449.73 300.78,451.97 300.68,454.20 300.58,456.44 300.48,458.68 300.39,460.91 300.29,463.15 300.20,465.38 300.11,467.62 300.01,469.85 299.92,472.09 299.83,474.32 299.74,476.56 299.65,478.80 299.56,481.03 299.48,483.27 299.39,485.50 299.30,487.74 299.22,489.98 299.13,492.21 299.05,494.45 298.97,496.68 298.89,498.92" fill="#4040ff"/><polygon points="307.06,499.22 307.14,496.98 307.22,494.75 307.31,492.52 307.39,490.29 307.47,488.05 307.56,485.82 307.65,483.59 307.73,481.35 307.82,479.12 307.91,476.89 308.00,474.66 308.09,472.42 308.18,470.19 308.28,467.96 308.37,465.72 308.46,463.49 308.56,461.26 308.65,459.03 308.75,456.79 308.85,454.56 308.95,452.33 309.04,450.10 309.14,447.86 309.24,445.63 309.35,443.40 309.45,441.17 313.41,441.35 313.30,443.58 313.20,445.81 313.10,448.04 313.00,450.27 312.90,452.50 312.80,454.73 312.71,456.97 312.61,459.20 312.52,461.43 312.42,463.66 312.33,465.89 312.23,468.12 312.14,470.35 312.05,472.58 311.96,474.82 311.87,477.05 311.78,479.28 311.69,481.51 311.60,483.74 311.52,485.97 311.43,488.20 311.35,490.43 311.26,492.67 311.18,494.90 311.10,497.13 311.02,499.36" fill="#0000bf"/></g><clipPath id="c18"><polygon points="296.78,476.50 296.69,478.79 296.60,481.07 296.51,483.36 296.42,485.65 296.33,487.93 296.24,490.22 296.16,492.51 296.07,494.80 295.99,497.08 295.91,499.37 295.82,501.66 295.74,503.94 302.63,508.79 309.83,504.44 309.91,502.16 310.00,499.88 310.08,497.60 310.16,495.32 310.25,493.04 310.33,490.75 310.42,488.47 310.51,486.19 310.60,483.91 310.69,481.63 310.78,479.35 310.87,477.07"/></clipPath><polygon points="296.78,476.50 296.69,478.79 296.60,481.07 296.51,483.36 296.42,485.65 296.33,487.93 296.24,490.22 296.16,492.51 296.07,494.80 295.99,497.08 295.91,499.37 295.82,501.66 295.74,503.94 302.63,508.79 309.83,504.44 309.91,502.16 310.00,499.88 310.08,497.60 310.16,495.32 310.25,493.04 310.33,490.75 310.42,488.47 310.51,486.19 310.60,483.91 310.69,481.63 310.78,479.35 310.87,477.07" fill="#0000ff"/><g clip-path="url(#c18)"><polygon points="293.82,531.47 293.90,529.18 293.97,526.88 294.04,524.59 294.12,522.30 294.19,520.00 294.27,517.71 294.34,515.42 294.42,513.12 294.50,510.83 294.58,508.54 294.66,506.24 294.74,503.95 294.82,501.66 294.91,499.36 294.99,497.07 295.07,494.78 295.16,492.49 295.25,490.19 295.33,487.90 295.42,485.61 295.51,483.31 295.60,481.02 295.69,478.73 295.78,476.43 295.87,474.14 295.97,471.85 296.06,469.56 296.16,467.26 296.25,464.97 296.35,462.68 296.45,460.39 296.54,458.09 296.64,455.80 296.74,453.51 300.70,453.68 300.60,455.97 300.50,458.26 300.40,460.55 300.31,462.85 300.21,465.14 300.11,467.43 300.02,469.72 299.92,472.01 299.83,474.30 299.74,476.59 299.65,478.88 299.56,481.18 299.47,483.47 299.38,485.76 299.29,488.05 299.20,490.34 299.12,492.63 299.03,494.93 298.95,497.22 298.86,499.51 298.78,501.80 298.70,504.09 298.62,506.38 298.54,508.68 298.46,510.97 298.38,513.26 298.30,515.55 298.23,517.84 298.15,520.13 298.08,522.43 298.00,524.72 297.93,527.01 297.86,529.30 297.78,531.59" fill="#4040ff"/><polygon points="305.96,531.85 306.03,529.56 306.10,527.27 306.17,524.98 306.25,522.69 306.32,520.40 306.40,518.11 306.48,515.83 306.55,513.54 306.63,511.25 306.71,508.96 306.79,506.67 306.87,504.38 306.95,502.09 307.04,499.80 307.12,497.52 307.20,495.23 307.29,492.94 307.38,490.65 307.46,488.36 307.55,486.07 307.64,483.79 307.73,481.50 307.82,479.21 307.91,476.92 308.00,474.63 308.10,472.34 308.19,470.06 308.28,467.77 308.38,465.48 308.48,463.19 308.57,460.90 308.67,458.62 308.77,456.33 308.87,454.04 312.83,454.21 312.73,456.50 312.63,458.79 312.53,461.07 312.43,463.36 312.34,465.65 312.24,467.93 312.15,470.22 312.05,472.51 311.96,474.79 311.87,477.08 311.78,479.37 311.69,481.65 311.60,483.94 311.51,486.23 311.42,488.51 311.33,490.80 311.25,493.09 311.16,495.37 311.08,497.66 310.99,499.95 310.91,502.24 310.83,504.52 310.75,506.81 310.67,509.10 310.59,511.38 310.51,513.67 310.43,515.96 310.36,518.25 310.28,520.53 310.21,522.82 310.13,525.11 310.06,527.40 309.99,529.68 309.92,531.97" fill="#0000bf"/></g><clipPath id="c19"><polygon points="292.71,621.11 292.74,618.84 292.78,616.58 292.82,614.32 292.86,612.05 292.90,609.79 292.94,607.53 292.98,605.27 293.03,603.00 293.07,600.74 293.12,598.48 293.16,596.22 293.21,593.95 293.26,591.69 293.30,589.43 293.35,587.17 293.40,584.90 293.45,582.64 293.51,580.38 293.56,578.12 293.61,575.86 293.66,573.59 293.72,571.33 293.78,569.07 293.83,566.81 293.89,564.54 293.95,562.28 294.01,560.02 308.10,560.39 308.04,562.65 307.99,564.90 307.93,567.16 307.87,569.42 307.82,571.68 307.76,573.93 307.71,576.19 307.65,578.45 307.60,580.70 307.55,582.96 307.50,585.22 307.45,587.48 307.40,589.73 307.35,591.99 307.31,594.25 307.26,596.50 307.21,598.76 307.17,601.02 307.12,603.28 307.08,605.53 307.04,607.79 307.00,610.05 306.96,612.31 306.92,614.56 306.88,616.82 306.84,619.08 306.80,621.33"/></clipPath><polygon points="292.71,621.11 292.74,618.84 292.78,616.58 292.82,614.32 292.86,612.05 292.90,609.79 292.94,607.53 292.98,605.27 293.03,603.00 293.07,600.74 293.12,598.48 293.16,596.22 293.21,593.95 293.26,591.69 293.30,589.43 293.35,587.17 293.40,584.90 293.45,582.64 293.51,580.38 293.56,578.12 293.61,575.86 293.66,573.59 293.72,571.33 293.78,569.07 293.83,566.81 293.89,564.54 293.95,562.28 294.01,560.02 308.10,560.39 308.04,562.65 307.99,564.90 307.93,567.16 307.87,569.42 307.82,571.68 307.76,573.93 307.71,576.19 307.65,578.45 307.60,580.70 307.55,582.96 307.50,585.22 307.45,587.48 307.40,589.73 307.35,591.99 307.31,594.25 307.26,596.50 307.21,598.76 307.17,601.02 307.12,603.28 307.08,605.53 307.04,607.79 307.00,610.05 306.96,612.31 306.92,614.56 306.88,616.82 306.84,619.08 306.80,621.33" fill="#0000ff"/><g clip-path="url(#c19)"><polygon points="291.38,644.06 291.40,641.78 291.43,639.50 291.46,637.23 291.50,634.95 291.53,632.67 291.56,630.39 291.60,628.12 291.63,625.84 291.67,623.56 291.70,621.28 291.74,619.01 291.78,616.73 291.82,614.45 291.86,612.17 291.90,609.90 291.94,607.62 291.98,605.34 292.03,603.06 292.07,600.79 292.12,598.51 292.16,596.23 292.21,593.96 292.26,591.68 292.30,589.40 292.35,587.12 292.40,584.85 292.46,582.57 292.51,580.29 292.56,578.01 292.61,575.74 292.67,573.46 292.72,571.18 292.78,568.91 292.84,566.63 292.89,564.35 292.95,562.07 293.01,559.80 293.07,557.52 293.13,555.24 293.20,552.97 293.26,550.69 293.32,548.41 293.39,546.14 293.45,543.86 293.52,541.58 293.59,539.31 293.66,537.03 297.61,537.15 297.55,539.42 297.48,541.70 297.41,543.97 297.35,546.25 297.28,548.52 297.22,550.80 297.16,553.08 297.09,555.35 297.03,557.63 296.97,559.90 296.91,562.18 296.85,564.45 296.80,566.73 296.74,569.00 296.68,571.28 296.63,573.56 296.57,575.83 296.52,578.11 296.47,580.38 296.42,582.66 296.36,584.93 296.31,587.21 296.26,589.49 296.22,591.76 296.17,594.04 296.12,596.31 296.08,598.59 296.03,600.87 295.99,603.14 295.94,605.42 295.90,607.69 295.86,609.97 295.82,612.24 295.78,614.52 295.74,616.80 295.70,619.07 295.66,621.35 295.63,623.62 295.59,625.90 295.56,628.18 295.52,630.45 295.49,632.73 295.46,635.01 295.43,637.28 295.39,639.56 295.37,641.83 295.34,644.11" fill="#4040ff"/><polygon points="303.51,644.21 303.54,641.94 303.57,639.67 303.60,637.39 303.63,635.12 303.67,632.85 303.70,630.57 303.73,628.30 303.77,626.03 303.80,623.75 303.84,621.48 303.88,619.21 303.92,616.94 303.95,614.66 303.99,612.39 304.04,610.12 304.08,607.84 304.12,605.57 304.16,603.30 304.21,601.03 304.25,598.75 304.30,596.48 304.34,594.21 304.39,591.93 304.44,589.66 304.49,587.39 304.54,585.12 304.59,582.84 304.64,580.57 304.70,578.30 304.75,576.03 304.80,573.75 304.86,571.48 304.91,569.21 304.97,566.94 305.03,564.66 305.09,562.39 305.15,560.12 305.21,557.85 305.27,555.57 305.33,553.30 305.39,551.03 305.46,548.76 305.52,546.48 305.59,544.21 305.65,541.94 305.72,539.67 305.79,537.39 309.75,537.51 309.68,539.78 309.61,542.05 309.55,544.33 309.48,546.60 309.42,548.87 309.35,551.14 309.29,553.41 309.23,555.68 309.17,557.95 309.11,560.22 309.05,562.49 308.99,564.76 308.93,567.03 308.87,569.31 308.82,571.58 308.76,573.85 308.71,576.12 308.66,578.39 308.60,580.66 308.55,582.93 308.50,585.20 308.45,587.48 308.40,589.75 308.35,592.02 308.30,594.29 308.26,596.56 308.21,598.83 308.17,601.10 308.12,603.37 308.08,605.65 308.04,607.92 308.00,610.19 307.96,612.46 307.92,614.73 307.88,617.00 307.84,619.27 307.80,621.55 307.76,623.82 307.73,626.09 307.69,628.36 307.66,630.63 307.63,632.90 307.59,635.18 307.56,637.45 307.53,639.72 307.50,641.99 307.47,644.26" fill="#0000bf"/></g><clipPath id="c20"><polygon points="267.25,554.38 267.31,552.21 267.37,550.03 267.43,547.86 267.49,545.69 267.55,543.52 267.62,541.35 267.68,539.18 267.74,537.01 267.81,534.84 267.88,532.67 267.94,530.49 268.01,528.32 268.08,526.15 268.15,523.98 268.22,521.81 268.29,519.64 268.36,517.47 275.51,513.10 282.35,517.93 282.28,520.10 282.21,522.27 282.14,524.43 282.07,526.60 282.00,528.76 281.94,530.93 281.87,533.10 281.80,535.26 281.74,537.43 281.67,539.59 281.61,541.76 281.55,543.93 281.48,546.09 281.42,548.26 281.36,550.42 281.30,552.59 281.24,554.76"/></clipPath><polygon points="267.25,554.38 267.31,552.21 267.37,550.03 267.43,547.86 267.49,545.69 267.55,543.52 267.62,541.35 267.68,539.18 267.74,537.01 267.81,534.84 267.88,532.67 267.94,530.49 268.01,528.32 268.08,526.15 268.15,523.98 268.22,521.81 268.29,519.64 268.36,517.47 275.51,513.10 282.35,517.93 282.28,520.10 282.21,522.27 282.14,524.43 282.07,526.60 282.00,528.76 281.94,530.93 281.87,533.10 281.80,535.26 281.74,537.43 281.67,539.59 281.61,541.76 281.55,543.93 281.48,546.09 281.42,548.26 281.36,550.42 281.30,552.59 281.24,554.76" fill="#ff0000"/><g clip-path="url(#c20)"><polygon points="265.67,577.42 265.72,575.17 265.77,572.92 265.83,570.67 265.88,568.43 265.94,566.18 266.00,563.93 266.05,561.68 266.11,559.44 266.17,557.19 266.23,554.94 266.29,552.69 266.36,550.45 266.42,548.20 266.48,545.95 266.55,543.70 266.61,541.46 266.68,539.21 266.75,536.96 266.81,534.71 266.88,532.47 266.95,530.22 267.02,527.97 267.09,525.72 267.16,523.48 267.24,521.23 267.31,518.98 267.38,516.74 267.46,514.49 267.54,512.24 267.61,509.99 267.69,507.75 267.77,505.50 267.85,503.25 267.93,501.01 268.01,498.76 268.09,496.51 268.17,494.27 268.26,492.02 268.34,489.77 272.28,489.92 272.19,492.17 272.11,494.41 272.03,496.66 271.95,498.90 271.87,501.15 271.79,503.39 271.71,505.64 271.63,507.88 271.55,510.13 271.47,512.38 271.40,514.62 271.32,516.87 271.25,519.11 271.17,521.36 271.10,523.60 271.03,525.85 270.96,528.10 270.89,530.34 270.82,532.59 270.75,534.83 270.68,537.08 270.62,539.32 270.55,541.57 270.49,543.82 270.42,546.06 270.36,548.31 270.29,550.55 270.23,552.80 270.17,555.05 270.11,557.29 270.05,559.54 269.99,561.79 269.93,564.03 269.88,566.28 269.82,568.52 269.77,570.77 269.71,573.02 269.66,575.26 269.61,577.51" fill="#ff4040"/><polygon points="277.72,577.70 277.78,575.46 277.83,573.21 277.88,570.97 277.94,568.73 278.00,566.48 278.05,564.24 278.11,562.00 278.17,559.75 278.23,557.51 278.29,555.27 278.35,553.02 278.41,550.78 278.47,548.54 278.54,546.29 278.60,544.05 278.67,541.81 278.73,539.57 278.80,537.32 278.87,535.08 278.94,532.84 279.01,530.59 279.08,528.35 279.15,526.11 279.22,523.87 279.29,521.62 279.36,519.38 279.44,517.14 279.51,514.89 279.59,512.65 279.67,510.41 279.74,508.17 279.82,505.92 279.90,503.68 279.98,501.44 280.06,499.20 280.14,496.95 280.23,494.71 280.31,492.47 280.39,490.23 284.33,490.38 284.25,492.62 284.16,494.86 284.08,497.10 284.00,499.34 283.92,501.58 283.84,503.82 283.76,506.06 283.68,508.30 283.60,510.54 283.53,512.79 283.45,515.03 283.38,517.27 283.30,519.51 283.23,521.75 283.16,523.99 283.08,526.23 283.01,528.47 282.94,530.72 282.87,532.96 282.81,535.20 282.74,537.44 282.67,539.68 282.61,541.92 282.54,544.16 282.48,546.41 282.41,548.65 282.35,550.89 282.29,553.13 282.23,555.37 282.17,557.61 282.11,559.86 282.05,562.10 281.99,564.34 281.93,566.58 281.88,568.82 281.82,571.06 281.77,573.31 281.71,575.55 281.66,577.79" fill="#bf0000"/></g><line x1="374.2" y1="75.5" x2="422.5" y2="80.8" stroke="#0000ff" stroke-width="1.1"/><line x1="363.7" y1="182.0" x2="412.0" y2="186.3" stroke="#0000ff" stroke-width="1.1"/><line x1="359.0" y1="237.7" x2="407.3" y2="241.9" stroke="#0000ff" stroke-width="1.1"/><line x1="352.8" y1="316.2" x2="402.0" y2="320.0" stroke="#0000ff" stroke-width="1.1"/><line x1="349.3" y1="373.5" x2="398.5" y2="375.7" stroke="#0000ff" stroke-width="1.1"/><line x1="346.2" y1="428.8" x2="395.0" y2="431.2" stroke="#0000ff" stroke-width="1.1"/><line x1="344.7" y1="471.7" x2="392.7" y2="474.2" stroke="#0000ff" stroke-width="1.1"/><line x1="343.7" y1="494.5" x2="392.7" y2="496.3" stroke="#0000ff" stroke-width="1.1"/><line x1="187.0" y1="530.5" x2="234.25" y2="532.5" stroke="#ff0000" stroke-width="1.1"/><g style="filter:opacity(1)"><text x="424.70" y="82.70" fill="#0000ff" stroke="#0000ff" stroke-width="0.2" style="font-family:'Liberation Sans',sans-serif;font-size:11px" textLength="4.65" lengthAdjust="spacingAndGlyphs">d</text><text x="430.75" y="82.70" fill="#0000ff" stroke="#0000ff" stroke-width="0.2" style="font-family:'Liberation Sans',sans-serif;font-size:11px" textLength="4.89" lengthAdjust="spacingAndGlyphs">n</text><text x="436.66" y="82.70" fill="#0000ff" stroke="#0000ff" stroke-width="0.2" style="font-family:'Liberation Sans',sans-serif;font-size:11px" textLength="4.78" lengthAdjust="spacingAndGlyphs">a</text><text x="442.86" y="82.70" fill="#0000ff" stroke="#0000ff" stroke-width="0.2" style="font-family:'Liberation Sans',sans-serif;font-size:10.6px" textLength="4.65" lengthAdjust="spacingAndGlyphs">E</text><text x="414.69" y="187.80" fill="#0000ff" stroke="#0000ff" stroke-width="0.2" style="font-family:'Liberation Sans',sans-serif;font-size:11px" textLength="4.95" lengthAdjust="spacingAndGlyphs">a</text><text x="420.54" y="187.80" fill="#0000ff" stroke="#0000ff" stroke-width="0.2" style="font-family:'Liberation Sans',sans-serif;font-size:11px" textLength="3.62" lengthAdjust="spacingAndGlyphs">c</text><text x="425.49" y="187.80" fill="#0000ff" stroke="#0000ff" stroke-width="0.2" style="font-family:'Liberation Sans',sans-serif;font-size:11px" textLength="3.64" lengthAdjust="spacingAndGlyphs">c</text><text x="430.02" y="187.80" fill="#0000ff" stroke="#0000ff" stroke-width="0.2" style="font-family:'Liberation Sans',sans-serif;font-size:10.6px" textLength="7.14" lengthAdjust="spacingAndGlyphs">A</text><text x="409.21" y="243.70" fill="#0000ff" stroke="#0000ff" stroke-width="0.2" style="font-family:'Liberation Sans',sans-serif;font-size:10.6px" textLength="5.42" lengthAdjust="spacingAndGlyphs">P</text><text x="414.21" y="243.70" fill="#0000ff" stroke="#0000ff" stroke-width="0.2" style="font-family:'Liberation Sans',sans-serif;font-size:10.6px" textLength="5.47" lengthAdjust="spacingAndGlyphs">S</text><text x="420.12" y="243.70" fill="#0000ff" stroke="#0000ff" stroke-width="0.2" style="font-family:'Liberation Sans',sans-serif;font-size:10.6px" textLength="4.67" lengthAdjust="spacingAndGlyphs">E</text><text x="425.65" y="243.70" fill="#0000ff" stroke="#0000ff" stroke-width="0.2" style="font-family:'Liberation Sans',sans-serif;font-size:10.6px" textLength="4.47" lengthAdjust="spacingAndGlyphs">E</text><text x="431.00" y="243.70" fill="#0000ff" stroke="#0000ff" stroke-width="0.2" style="font-family:'Liberation Sans',sans-serif;font-size:10.6px" textLength="5.42" lengthAdjust="spacingAndGlyphs">N</text><text x="436.86" y="243.70" fill="#0000ff" stroke="#0000ff" stroke-width="0.2" style="font-family:'Liberation Sans',sans-serif;font-size:10.6px" textLength="5.33" lengthAdjust="spacingAndGlyphs">4</text><text x="443.53" y="243.70" fill="#0000ff" stroke="#0000ff" stroke-width="0.2" style="font-family:'Liberation Sans',sans-serif;font-size:10.6px" textLength="4.95" lengthAdjust="spacingAndGlyphs">2</text><text x="449.86" y="243.70" fill="#0000ff" stroke="#0000ff" stroke-width="0.2" style="font-family:'Liberation Sans',sans-serif;font-size:10.6px" textLength="3.92" lengthAdjust="spacingAndGlyphs">0</text><text x="455.34" y="243.70" fill="#0000ff" stroke="#0000ff" stroke-width="0.2" style="font-family:'Liberation Sans',sans-serif;font-size:10.6px" textLength="4.89" lengthAdjust="spacingAndGlyphs">3</text><text x="403.36" y="322.60" fill="#0000ff" stroke="#0000ff" stroke-width="0.2" style="font-family:'Liberation Sans',sans-serif;font-size:11px" textLength="5.03" lengthAdjust="spacingAndGlyphs">p</text><text x="408.68" y="322.60" fill="#0000ff" stroke="#0000ff" stroke-width="0.2" style="font-family:'Liberation Sans',sans-serif;font-size:11px" textLength="4.77" lengthAdjust="spacingAndGlyphs">y</text><text x="414.42" y="322.60" fill="#0000ff" stroke="#0000ff" stroke-width="0.2" style="font-family:'Liberation Sans',sans-serif;font-size:11px" textLength="3.36" lengthAdjust="spacingAndGlyphs">r</text><text x="418.58" y="322.60" fill="#0000ff" stroke="#0000ff" stroke-width="0.2" style="font-family:'Liberation Sans',sans-serif;font-size:10.6px" textLength="5.85" lengthAdjust="spacingAndGlyphs">G</text><text x="400.30" y="378.00" fill="#0000ff" stroke="#0000ff" stroke-width="0.2" style="font-family:'Liberation Sans',sans-serif;font-size:11px" textLength="5.55" lengthAdjust="spacingAndGlyphs">k</text><text x="406.90" y="378.00" fill="#0000ff" stroke="#0000ff" stroke-width="0.2" style="font-family:'Liberation Sans',sans-serif;font-size:11px" textLength="4.59" lengthAdjust="spacingAndGlyphs">d</text><text x="412.53" y="378.00" fill="#0000ff" stroke="#0000ff" stroke-width="0.2" style="font-family:'Liberation Sans',sans-serif;font-size:11px" textLength="3.86" lengthAdjust="spacingAndGlyphs">s</text><text x="416.70" y="378.00" fill="#0000ff" stroke="#0000ff" stroke-width="0.2" style="font-family:'Liberation Sans',sans-serif;font-size:10.6px" textLength="7.22" lengthAdjust="spacingAndGlyphs">A</text><text x="397.66" y="432.00" fill="#0000ff" stroke="#0000ff" stroke-width="0.2" style="font-family:'Liberation Sans',sans-serif;font-size:11px" textLength="4.70" lengthAdjust="spacingAndGlyphs">e</text><text x="403.19" y="432.00" fill="#0000ff" stroke="#0000ff" stroke-width="0.2" style="font-family:'Liberation Sans',sans-serif;font-size:11px" textLength="5.26" lengthAdjust="spacingAndGlyphs">n</text><text x="409.55" y="432.00" fill="#0000ff" stroke="#0000ff" stroke-width="0.2" style="font-family:'Liberation Sans',sans-serif;font-size:11px" textLength="4.88" lengthAdjust="spacingAndGlyphs">o</text><text x="394.62" y="475.70" fill="#0000ff" stroke="#0000ff" stroke-width="0.2" style="font-family:'Liberation Sans',sans-serif;font-size:11px" textLength="4.06" lengthAdjust="spacingAndGlyphs">f</text><text x="398.95" y="475.70" fill="#0000ff" stroke="#0000ff" stroke-width="0.2" style="font-family:'Liberation Sans',sans-serif;font-size:11px" textLength="3.52" lengthAdjust="spacingAndGlyphs">t</text><text x="403.53" y="475.70" fill="#0000ff" stroke="#0000ff" stroke-width="0.2" style="font-family:'Liberation Sans',sans-serif;font-size:11px" textLength="3.86" lengthAdjust="spacingAndGlyphs">s</text><text x="408.34" y="475.70" fill="#0000ff" stroke="#0000ff" stroke-width="0.2" style="font-family:'Liberation Sans',sans-serif;font-size:10.6px" textLength="5.15" lengthAdjust="spacingAndGlyphs">B</text><text x="394.34" y="498.80" fill="#0000ff" stroke="#0000ff" stroke-width="0.2" style="font-family:'Liberation Sans',sans-serif;font-size:11px" textLength="2.34" lengthAdjust="spacingAndGlyphs">i</text><text x="397.32" y="498.80" fill="#0000ff" stroke="#0000ff" stroke-width="0.2" style="font-family:'Liberation Sans',sans-serif;font-size:11px" textLength="4.05" lengthAdjust="spacingAndGlyphs">s</text><text x="402.24" y="498.80" fill="#0000ff" stroke="#0000ff" stroke-width="0.2" style="font-family:'Liberation Sans',sans-serif;font-size:11px" textLength="4.41" lengthAdjust="spacingAndGlyphs">p</text><text x="408.40" y="498.80" fill="#0000ff" stroke="#0000ff" stroke-width="0.2" style="font-family:'Liberation Sans',sans-serif;font-size:10.6px" textLength="6.14" lengthAdjust="spacingAndGlyphs">D</text><text x="133.23" y="532.60" fill="#ff0000" stroke="#ff0000" stroke-width="0.2" style="font-family:'Liberation Sans',sans-serif;font-size:10.6px" textLength="5.33" lengthAdjust="spacingAndGlyphs">P</text><text x="138.42" y="532.60" fill="#ff0000" stroke="#ff0000" stroke-width="0.2" style="font-family:'Liberation Sans',sans-serif;font-size:10.6px" textLength="5.30" lengthAdjust="spacingAndGlyphs">S</text><text x="144.32" y="532.60" fill="#ff0000" stroke="#ff0000" stroke-width="0.2" style="font-family:'Liberation Sans',sans-serif;font-size:10.6px" textLength="4.74" lengthAdjust="spacingAndGlyphs">E</text><text x="149.60" y="532.60" fill="#ff0000" stroke="#ff0000" stroke-width="0.2" style="font-family:'Liberation Sans',sans-serif;font-size:10.6px" textLength="4.69" lengthAdjust="spacingAndGlyphs">E</text><text x="154.97" y="532.60" fill="#ff0000" stroke="#ff0000" stroke-width="0.2" style="font-family:'Liberation Sans',sans-serif;font-size:10.6px" textLength="5.50" lengthAdjust="spacingAndGlyphs">N</text><text x="160.91" y="532.60" fill="#ff0000" stroke="#ff0000" stroke-width="0.2" style="font-family:'Liberation Sans',sans-serif;font-size:10.6px" textLength="5.04" lengthAdjust="spacingAndGlyphs">4</text><text x="167.45" y="532.60" fill="#ff0000" stroke="#ff0000" stroke-width="0.2" style="font-family:'Liberation Sans',sans-serif;font-size:10.6px" textLength="2.43" lengthAdjust="spacingAndGlyphs">1</text><text x="172.27" y="532.60" fill="#ff0000" stroke="#ff0000" stroke-width="0.2" style="font-family:'Liberation Sans',sans-serif;font-size:10.6px" textLength="4.26" lengthAdjust="spacingAndGlyphs">9</text><text x="178.53" y="532.60" fill="#ff0000" stroke="#ff0000" stroke-width="0.2" style="font-family:'Liberation Sans',sans-serif;font-size:10.6px" textLength="5.62" lengthAdjust="spacingAndGlyphs">7</text><text x="383.48" y="33.70" fill="#000000" style="font-family:'Liberation Sans',sans-serif;font-size:8.2px" textLength="19.58" lengthAdjust="spacing">4488</text><text x="406.55" y="33.70" fill="#000000" style="font-family:'Liberation Sans',sans-serif;font-size:8.2px" textLength="14.74" lengthAdjust="spacing">kbp</text><text x="373.99" y="124.70" fill="#000000" style="font-family:'Liberation Sans',sans-serif;font-size:8.2px" textLength="19.29" lengthAdjust="spacing">4486</text><text x="396.82" y="124.70" fill="#000000" style="font-family:'Liberation Sans',sans-serif;font-size:8.2px" textLength="14.90" lengthAdjust="spacing">kbp</text><text x="365.48" y="215.70" fill="#000000" style="font-family:'Liberation Sans',sans-serif;font-size:8.2px" textLength="19.72" lengthAdjust="spacing">4484</text><text x="388.55" y="215.70" fill="#000000" style="font-family:'Liberation Sans',sans-serif;font-size:8.2px" textLength="14.74" lengthAdjust="spacing">kbp</text><text x="358.99" y="306.90" fill="#000000" style="font-family:'Liberation Sans',sans-serif;font-size:8.2px" textLength="19.33" lengthAdjust="spacing">4482</text><text x="381.82" y="306.90" fill="#000000" style="font-family:'Liberation Sans',sans-serif;font-size:8.2px" textLength="14.90" lengthAdjust="spacing">kbp</text><text x="353.99" y="397.70" fill="#000000" style="font-family:'Liberation Sans',sans-serif;font-size:8.2px" textLength="19.26" lengthAdjust="spacing">4480</text><text x="376.82" y="397.70" fill="#000000" style="font-family:'Liberation Sans',sans-serif;font-size:8.2px" textLength="14.90" lengthAdjust="spacing">kbp</text><text x="349.99" y="488.80" fill="#000000" style="font-family:'Liberation Sans',sans-serif;font-size:8.2px" textLength="19.46" lengthAdjust="spacing">4478</text><text x="372.82" y="488.80" fill="#000000" style="font-family:'Liberation Sans',sans-serif;font-size:8.2px" textLength="14.90" lengthAdjust="spacing">kbp</text><text x="347.08" y="579.60" fill="#000000" style="font-family:'Liberation Sans',sans-serif;font-size:8.2px" textLength="19.43" lengthAdjust="spacing">4476</text><text x="369.94" y="579.60" fill="#000000" style="font-family:'Liberation Sans',sans-serif;font-size:8.2px" textLength="14.71" lengthAdjust="spacing">kbp</text></g><rect x="110" y="5" width="380" height="26" fill="#ffffff" fill-opacity="0.8"/><rect x="110" y="5" width="380" height="1" fill="#ffffff" fill-opacity="0.25"/><rect x="110" y="30" width="380" height="1" fill="#ffffff" fill-opacity="0.25"/><rect x="252" y="571" width="346" height="24" fill="#ffffff" fill-opacity="0.8"/><rect x="252" y="571" width="346" height="1" fill="#ffffff" fill-opacity="0.25"/><rect x="252" y="594" width="346" height="1" fill="#ffffff" fill-opacity="0.25"/><rect x="2" y="571" width="150" height="24" fill="#ffffff" fill-opacity="0.8"/><rect x="2" y="571" width="150" height="1" fill="#ffffff" fill-opacity="0.25"/><rect x="2" y="594" width="150" height="1" fill="#ffffff" fill-opacity="0.25"/><g style="filter:opacity(1)"><text x="126.54" y="22.70" fill="#000000" style="font-family:'Liberation Sans',sans-serif;font-style:italic;font-size:14px" textLength="94.89" lengthAdjust="spacing">Pseudomonas</text><text x="227.07" y="22.70" fill="#000000" style="font-family:'Liberation Sans',sans-serif;font-style:italic;font-size:14px" textLength="85.94" lengthAdjust="spacing">entomophila</text><text x="317.54" y="22.70" fill="#000000" style="font-family:'Liberation Sans',sans-serif;font-style:italic;font-size:14px" textLength="31.15" lengthAdjust="spacing">L48,</text><text x="351.49" y="22.70" fill="#000000" style="font-family:'Liberation Sans',sans-serif;font-style:italic;font-size:14px" textLength="61.09" lengthAdjust="spacing">complete</text><text x="416.93" y="22.70" fill="#000000" style="font-family:'Liberation Sans',sans-serif;font-style:italic;font-size:14px" textLength="55.73" lengthAdjust="spacing">genome</text><text x="8.90" y="586.70" fill="#000000" style="font-family:'Liberation Sans',sans-serif;font-size:12px" textLength="59.13" lengthAdjust="spacing">Accession:</text><text x="73.00" y="586.70" fill="#000000" style="font-family:'Liberation Sans',sans-serif;font-size:12px" textLength="70.69" lengthAdjust="spacing">NC_008027</text><text x="261.62" y="586.80" fill="#000000" style="font-family:'Liberation Sans',sans-serif;font-size:12px" textLength="56.67" lengthAdjust="spacing">Topology:</text><text x="323.46" y="586.80" fill="#000000" style="font-family:'Liberation Sans',sans-serif;font-size:12px" textLength="44.45" lengthAdjust="spacing">circular;</text><text x="372.00" y="586.80" fill="#000000" style="font-family:'Liberation Sans',sans-serif;font-size:12px" textLength="42.05" lengthAdjust="spacing">Length:</text><text x="418.75" y="586.80" fill="#000000" style="font-family:'Liberation Sans',sans-serif;font-size:12px" textLength="63.69" lengthAdjust="spacing">5,888,780</text><text x="487.20" y="586.80" fill="#000000" style="font-family:'Liberation Sans',sans-serif;font-size:12px" textLength="19.70" lengthAdjust="spacing">bp;</text><text x="510.45" y="586.80" fill="#000000" style="font-family:'Liberation Sans',sans-serif;font-size:12px" textLength="41.10" lengthAdjust="spacing">Genes:</text><text x="555.31" y="586.80" fill="#000000" style="font-family:'Liberation Sans',sans-serif;font-size:12px" textLength="35.38" lengthAdjust="spacing">5,241</text></g></svg></body></html>
